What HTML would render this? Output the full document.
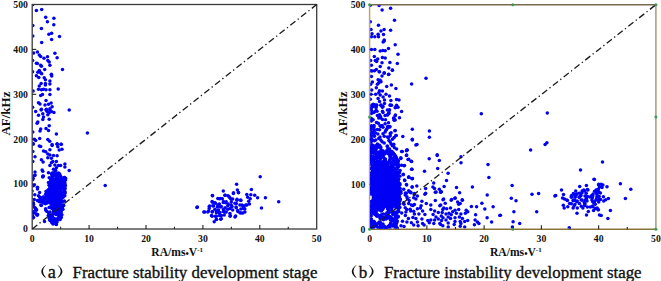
<!DOCTYPE html>
<html><head><meta charset="utf-8"><style>
html,body{margin:0;padding:0;background:#fff;width:661px;height:281px;overflow:hidden}
svg{display:block}
.tl{font-family:"Liberation Serif",serif;font-weight:bold;font-size:9.7px;fill:#111}
.at{font-family:"Liberation Serif",serif;font-weight:bold;font-size:11.2px;fill:#111}
.cap{font-family:"Liberation Serif",serif;font-size:16.8px;fill:#111;stroke:#111;stroke-width:0.35px}
</style></head><body>
<svg width="661" height="281" viewBox="0 0 661 281">
<defs><clipPath id="cl"><rect x="32.800000000000004" y="5.1" width="283.3" height="223.3"/><rect x="370.20000000000005" y="5.3" width="285.09999999999997" height="223.3"/></clipPath></defs>
<rect x="32.2" y="4.5" width="284.5" height="224.5" fill="none" stroke="#3a3a3a" stroke-width="1.3"/>
<line x1="60.65" y1="229.0" x2="60.65" y2="226.8" stroke="#222" stroke-width="1.1"/>
<line x1="89.10" y1="229.0" x2="89.10" y2="225.0" stroke="#222" stroke-width="1.1"/>
<line x1="117.55" y1="229.0" x2="117.55" y2="226.8" stroke="#222" stroke-width="1.1"/>
<line x1="146.00" y1="229.0" x2="146.00" y2="225.0" stroke="#222" stroke-width="1.1"/>
<line x1="174.45" y1="229.0" x2="174.45" y2="226.8" stroke="#222" stroke-width="1.1"/>
<line x1="202.90" y1="229.0" x2="202.90" y2="225.0" stroke="#222" stroke-width="1.1"/>
<line x1="231.35" y1="229.0" x2="231.35" y2="226.8" stroke="#222" stroke-width="1.1"/>
<line x1="259.80" y1="229.0" x2="259.80" y2="225.0" stroke="#222" stroke-width="1.1"/>
<line x1="288.25" y1="229.0" x2="288.25" y2="226.8" stroke="#222" stroke-width="1.1"/>
<line x1="32.2" y1="184.10" x2="36.2" y2="184.10" stroke="#222" stroke-width="1.1"/>
<line x1="32.2" y1="139.20" x2="36.2" y2="139.20" stroke="#222" stroke-width="1.1"/>
<line x1="32.2" y1="94.30" x2="36.2" y2="94.30" stroke="#222" stroke-width="1.1"/>
<line x1="32.2" y1="49.40" x2="36.2" y2="49.40" stroke="#222" stroke-width="1.1"/>
<text x="32.20" y="242.2" class="tl" text-anchor="middle">0</text>
<text x="89.10" y="242.2" class="tl" text-anchor="middle">10</text>
<text x="146.00" y="242.2" class="tl" text-anchor="middle">20</text>
<text x="202.90" y="242.2" class="tl" text-anchor="middle">30</text>
<text x="259.80" y="242.2" class="tl" text-anchor="middle">40</text>
<text x="316.70" y="242.2" class="tl" text-anchor="middle">50</text>
<text x="27.900000000000002" y="232.30" class="tl" text-anchor="end">0</text>
<text x="27.900000000000002" y="187.40" class="tl" text-anchor="end">100</text>
<text x="27.900000000000002" y="142.50" class="tl" text-anchor="end">200</text>
<text x="27.900000000000002" y="97.60" class="tl" text-anchor="end">300</text>
<text x="27.900000000000002" y="52.70" class="tl" text-anchor="end">400</text>
<text x="27.900000000000002" y="7.80" class="tl" text-anchor="end">500</text>
<path d="M655.9 4.7V229.2" fill="none" stroke="#a89a78" stroke-width="1.5"/>
<path d="M369.6 4.7H655.9" fill="none" stroke="#7a6a4c" stroke-width="1.4"/>
<path d="M369.6 229.2H655.9" fill="none" stroke="#8a7438" stroke-width="1.4"/>
<path d="M369.6 4.7V229.2" fill="none" stroke="#c4a664" stroke-width="1.5"/>
<line x1="398.23" y1="229.2" x2="398.23" y2="227.0" stroke="#222" stroke-width="1.1"/>
<line x1="426.86" y1="229.2" x2="426.86" y2="225.2" stroke="#222" stroke-width="1.1"/>
<line x1="455.49" y1="229.2" x2="455.49" y2="227.0" stroke="#222" stroke-width="1.1"/>
<line x1="484.12" y1="229.2" x2="484.12" y2="225.2" stroke="#222" stroke-width="1.1"/>
<line x1="512.75" y1="229.2" x2="512.75" y2="227.0" stroke="#222" stroke-width="1.1"/>
<line x1="541.38" y1="229.2" x2="541.38" y2="225.2" stroke="#222" stroke-width="1.1"/>
<line x1="570.01" y1="229.2" x2="570.01" y2="227.0" stroke="#222" stroke-width="1.1"/>
<line x1="598.64" y1="229.2" x2="598.64" y2="225.2" stroke="#222" stroke-width="1.1"/>
<line x1="627.27" y1="229.2" x2="627.27" y2="227.0" stroke="#222" stroke-width="1.1"/>
<line x1="369.6" y1="184.30" x2="373.6" y2="184.30" stroke="#222" stroke-width="1.1"/>
<line x1="369.6" y1="139.40" x2="373.6" y2="139.40" stroke="#222" stroke-width="1.1"/>
<line x1="369.6" y1="94.50" x2="373.6" y2="94.50" stroke="#222" stroke-width="1.1"/>
<line x1="369.6" y1="49.60" x2="373.6" y2="49.60" stroke="#222" stroke-width="1.1"/>
<text x="369.60" y="242.39999999999998" class="tl" text-anchor="middle">0</text>
<text x="426.86" y="242.39999999999998" class="tl" text-anchor="middle">10</text>
<text x="484.12" y="242.39999999999998" class="tl" text-anchor="middle">20</text>
<text x="541.38" y="242.39999999999998" class="tl" text-anchor="middle">30</text>
<text x="598.64" y="242.39999999999998" class="tl" text-anchor="middle">40</text>
<text x="655.90" y="242.39999999999998" class="tl" text-anchor="middle">50</text>
<text x="365.3" y="232.50" class="tl" text-anchor="end">0</text>
<text x="365.3" y="187.60" class="tl" text-anchor="end">100</text>
<text x="365.3" y="142.70" class="tl" text-anchor="end">200</text>
<text x="365.3" y="97.80" class="tl" text-anchor="end">300</text>
<text x="365.3" y="52.90" class="tl" text-anchor="end">400</text>
<text x="365.3" y="8.00" class="tl" text-anchor="end">500</text>
<g clip-path="url(#cl)">
<path d="M52,178 L62,178 L63,195 L62,208 L58,215 L53,214 L50,205 L50,190Z" fill="#0000f5"/>
<path d="M371,168 L380,167 L387,170 L393,170 L398,175 L400.5,185 L400.5,200 L399,207 L385,208 L372,209Z" fill="#0000f5"/>
<g fill="#0000f5"><circle cx="32.6" cy="4.6" r="1.75"/><circle cx="36.4" cy="10.4" r="1.75"/><circle cx="41.7" cy="9.5" r="1.75"/><circle cx="45.7" cy="17.2" r="1.75"/><circle cx="53.9" cy="18.2" r="1.75"/><circle cx="47.4" cy="21.7" r="1.75"/><circle cx="53.8" cy="24.8" r="1.75"/><circle cx="32.8" cy="25.6" r="1.75"/><circle cx="41.4" cy="28.6" r="1.75"/><circle cx="48.9" cy="34.2" r="1.75"/><circle cx="51.6" cy="33.3" r="1.75"/><circle cx="59.5" cy="36.6" r="1.75"/><circle cx="32.8" cy="36.0" r="1.75"/><circle cx="51.6" cy="39.5" r="1.75"/><circle cx="41.7" cy="42.4" r="1.75"/><circle cx="33.6" cy="53.1" r="1.75"/><circle cx="37.4" cy="52.1" r="1.75"/><circle cx="54.9" cy="53.2" r="1.75"/><circle cx="39.3" cy="54.9" r="1.75"/><circle cx="40.7" cy="56.4" r="1.75"/><circle cx="44.0" cy="58.2" r="1.75"/><circle cx="47.5" cy="56.7" r="1.75"/><circle cx="57.1" cy="57.8" r="1.75"/><circle cx="32.6" cy="60.6" r="1.75"/><circle cx="47.8" cy="60.6" r="1.75"/><circle cx="49.2" cy="62.1" r="1.75"/><circle cx="36.4" cy="63.2" r="1.75"/><circle cx="37.4" cy="63.5" r="1.75"/><circle cx="40.7" cy="65.2" r="1.75"/><circle cx="41.4" cy="66.3" r="1.75"/><circle cx="49.9" cy="65.3" r="1.75"/><circle cx="44.7" cy="69.5" r="1.75"/><circle cx="62.5" cy="69.5" r="1.75"/><circle cx="37.8" cy="72.3" r="1.75"/><circle cx="39.3" cy="70.6" r="1.75"/><circle cx="40.7" cy="72.7" r="1.75"/><circle cx="41.7" cy="73.7" r="1.75"/><circle cx="51.4" cy="74.2" r="1.75"/><circle cx="32.6" cy="71.8" r="1.75"/><circle cx="36.4" cy="75.7" r="1.75"/><circle cx="38.8" cy="77.4" r="1.75"/><circle cx="51.4" cy="75.0" r="1.75"/><circle cx="51.7" cy="76.0" r="1.75"/><circle cx="44.2" cy="77.8" r="1.75"/><circle cx="45.4" cy="79.7" r="1.75"/><circle cx="49.9" cy="81.1" r="1.75"/><circle cx="41.1" cy="83.5" r="1.75"/><circle cx="45.4" cy="83.5" r="1.75"/><circle cx="49.9" cy="84.0" r="1.75"/><circle cx="45.4" cy="85.0" r="1.75"/><circle cx="39.3" cy="86.0" r="1.75"/><circle cx="38.5" cy="89.2" r="1.75"/><circle cx="41.4" cy="89.7" r="1.75"/><circle cx="43.5" cy="89.2" r="1.75"/><circle cx="46.0" cy="89.7" r="1.75"/><circle cx="49.9" cy="89.7" r="1.75"/><circle cx="58.2" cy="88.9" r="1.75"/><circle cx="33.1" cy="91.1" r="1.75"/><circle cx="40.7" cy="95.6" r="1.75"/><circle cx="42.5" cy="94.5" r="1.75"/><circle cx="49.9" cy="94.5" r="1.75"/><circle cx="46.0" cy="100.6" r="1.75"/><circle cx="38.5" cy="102.8" r="1.75"/><circle cx="40.0" cy="103.9" r="1.75"/><circle cx="45.0" cy="104.9" r="1.75"/><circle cx="48.5" cy="104.2" r="1.75"/><circle cx="51.1" cy="103.0" r="1.75"/><circle cx="52.1" cy="106.8" r="1.75"/><circle cx="32.6" cy="107.3" r="1.75"/><circle cx="41.4" cy="109.2" r="1.75"/><circle cx="46.4" cy="109.2" r="1.75"/><circle cx="49.9" cy="108.7" r="1.75"/><circle cx="69.2" cy="109.9" r="1.75"/><circle cx="35.7" cy="111.4" r="1.75"/><circle cx="41.1" cy="110.0" r="1.75"/><circle cx="46.0" cy="110.0" r="1.75"/><circle cx="47.1" cy="111.4" r="1.75"/><circle cx="49.9" cy="110.0" r="1.75"/><circle cx="51.4" cy="111.4" r="1.75"/><circle cx="53.9" cy="112.4" r="1.75"/><circle cx="38.5" cy="115.3" r="1.75"/><circle cx="42.8" cy="113.8" r="1.75"/><circle cx="47.8" cy="114.7" r="1.75"/><circle cx="49.2" cy="112.8" r="1.75"/><circle cx="43.5" cy="117.1" r="1.75"/><circle cx="42.8" cy="119.5" r="1.75"/><circle cx="49.2" cy="119.2" r="1.75"/><circle cx="37.8" cy="122.1" r="1.75"/><circle cx="37.1" cy="123.2" r="1.75"/><circle cx="49.2" cy="125.7" r="1.75"/><circle cx="40.7" cy="128.9" r="1.75"/><circle cx="40.0" cy="130.9" r="1.75"/><circle cx="46.0" cy="128.5" r="1.75"/><circle cx="48.5" cy="130.6" r="1.75"/><circle cx="32.8" cy="132.1" r="1.75"/><circle cx="56.4" cy="133.9" r="1.75"/><circle cx="34.3" cy="139.2" r="1.75"/><circle cx="35.7" cy="140.6" r="1.75"/><circle cx="39.7" cy="138.5" r="1.75"/><circle cx="47.8" cy="139.5" r="1.75"/><circle cx="49.7" cy="141.3" r="1.75"/><circle cx="33.1" cy="143.5" r="1.75"/><circle cx="52.1" cy="144.6" r="1.75"/><circle cx="57.1" cy="143.7" r="1.75"/><circle cx="61.3" cy="144.2" r="1.75"/><circle cx="87.4" cy="133.1" r="1.75"/><circle cx="105.2" cy="185.4" r="1.75"/><circle cx="33.1" cy="144.3" r="1.75"/><circle cx="39.3" cy="146.0" r="1.75"/><circle cx="40.7" cy="146.4" r="1.75"/><circle cx="52.1" cy="145.4" r="1.75"/><circle cx="57.1" cy="144.3" r="1.75"/><circle cx="61.0" cy="144.3" r="1.75"/><circle cx="57.8" cy="146.8" r="1.75"/><circle cx="32.8" cy="151.4" r="1.75"/><circle cx="43.5" cy="151.1" r="1.75"/><circle cx="45.7" cy="151.7" r="1.75"/><circle cx="49.9" cy="149.7" r="1.75"/><circle cx="59.2" cy="150.0" r="1.75"/><circle cx="62.0" cy="149.3" r="1.75"/><circle cx="47.8" cy="154.0" r="1.75"/><circle cx="49.9" cy="155.0" r="1.75"/><circle cx="53.5" cy="155.4" r="1.75"/><circle cx="57.1" cy="155.7" r="1.75"/><circle cx="35.0" cy="156.8" r="1.75"/><circle cx="47.8" cy="157.8" r="1.75"/><circle cx="51.4" cy="158.2" r="1.75"/><circle cx="41.4" cy="159.7" r="1.75"/><circle cx="43.1" cy="162.1" r="1.75"/><circle cx="52.8" cy="161.4" r="1.75"/><circle cx="51.4" cy="162.8" r="1.75"/><circle cx="56.4" cy="161.4" r="1.75"/><circle cx="32.8" cy="161.4" r="1.75"/><circle cx="54.9" cy="164.9" r="1.75"/><circle cx="49.9" cy="165.6" r="1.75"/><circle cx="58.5" cy="165.4" r="1.75"/><circle cx="60.6" cy="165.6" r="1.75"/><circle cx="64.9" cy="163.9" r="1.75"/><circle cx="64.9" cy="167.1" r="1.75"/><circle cx="56.4" cy="167.8" r="1.75"/><circle cx="53.5" cy="169.2" r="1.75"/><circle cx="55.6" cy="170.2" r="1.75"/><circle cx="69.2" cy="170.6" r="1.75"/><circle cx="42.1" cy="169.9" r="1.75"/><circle cx="42.8" cy="171.3" r="1.75"/><circle cx="35.0" cy="172.0" r="1.75"/><circle cx="35.0" cy="174.9" r="1.75"/><circle cx="48.5" cy="172.8" r="1.75"/><circle cx="42.8" cy="176.3" r="1.75"/><circle cx="52.1" cy="174.2" r="1.75"/><circle cx="54.2" cy="174.2" r="1.75"/><circle cx="56.4" cy="174.9" r="1.75"/><circle cx="58.5" cy="175.6" r="1.75"/><circle cx="60.6" cy="176.3" r="1.75"/><circle cx="52.8" cy="177.0" r="1.75"/><circle cx="49.2" cy="177.7" r="1.75"/><circle cx="62.8" cy="178.2" r="1.75"/><circle cx="33.1" cy="178.2" r="1.75"/><circle cx="57.8" cy="178.5" r="1.75"/><circle cx="32.1" cy="176.0" r="1.75"/><circle cx="34.8" cy="175.5" r="1.75"/><circle cx="32.7" cy="179.8" r="1.75"/><circle cx="34.3" cy="185.1" r="1.75"/><circle cx="33.2" cy="185.7" r="1.75"/><circle cx="37.5" cy="187.3" r="1.75"/><circle cx="37.5" cy="188.9" r="1.75"/><circle cx="32.1" cy="191.0" r="1.75"/><circle cx="39.6" cy="192.6" r="1.75"/><circle cx="46.0" cy="191.5" r="1.75"/><circle cx="34.8" cy="194.7" r="1.75"/><circle cx="38.5" cy="195.8" r="1.75"/><circle cx="39.6" cy="196.9" r="1.75"/><circle cx="40.7" cy="199.0" r="1.75"/><circle cx="43.9" cy="197.9" r="1.75"/><circle cx="34.3" cy="199.5" r="1.75"/><circle cx="37.5" cy="200.6" r="1.75"/><circle cx="33.2" cy="202.7" r="1.75"/><circle cx="41.7" cy="201.7" r="1.75"/><circle cx="43.3" cy="176.0" r="1.75"/><circle cx="42.8" cy="177.1" r="1.75"/><circle cx="44.5" cy="221.6" r="1.75"/><circle cx="236.6" cy="184.2" r="1.75"/><circle cx="223.3" cy="191.0" r="1.75"/><circle cx="237.4" cy="190.0" r="1.75"/><circle cx="238.5" cy="192.4" r="1.75"/><circle cx="233.4" cy="193.4" r="1.75"/><circle cx="225.2" cy="195.3" r="1.75"/><circle cx="229.1" cy="196.7" r="1.75"/><circle cx="246.8" cy="194.4" r="1.75"/><circle cx="212.5" cy="195.7" r="1.75"/><circle cx="219.4" cy="198.7" r="1.75"/><circle cx="222.3" cy="198.7" r="1.75"/><circle cx="231.1" cy="199.2" r="1.75"/><circle cx="237.0" cy="200.2" r="1.75"/><circle cx="240.9" cy="200.6" r="1.75"/><circle cx="247.7" cy="197.3" r="1.75"/><circle cx="248.7" cy="201.2" r="1.75"/><circle cx="212.5" cy="202.2" r="1.75"/><circle cx="215.4" cy="203.2" r="1.75"/><circle cx="219.4" cy="204.1" r="1.75"/><circle cx="223.3" cy="202.6" r="1.75"/><circle cx="226.2" cy="201.8" r="1.75"/><circle cx="228.2" cy="204.1" r="1.75"/><circle cx="231.1" cy="205.1" r="1.75"/><circle cx="235.0" cy="203.2" r="1.75"/><circle cx="239.9" cy="205.1" r="1.75"/><circle cx="243.8" cy="206.1" r="1.75"/><circle cx="246.8" cy="205.1" r="1.75"/><circle cx="197.4" cy="207.1" r="1.75"/><circle cx="209.6" cy="206.1" r="1.75"/><circle cx="213.5" cy="206.1" r="1.75"/><circle cx="217.4" cy="207.1" r="1.75"/><circle cx="221.3" cy="206.5" r="1.75"/><circle cx="225.2" cy="207.7" r="1.75"/><circle cx="230.1" cy="208.4" r="1.75"/><circle cx="236.0" cy="207.1" r="1.75"/><circle cx="240.9" cy="209.0" r="1.75"/><circle cx="244.8" cy="209.0" r="1.75"/><circle cx="204.7" cy="212.0" r="1.75"/><circle cx="208.6" cy="211.0" r="1.75"/><circle cx="212.5" cy="211.6" r="1.75"/><circle cx="216.4" cy="211.0" r="1.75"/><circle cx="219.4" cy="212.4" r="1.75"/><circle cx="223.3" cy="211.6" r="1.75"/><circle cx="226.2" cy="212.0" r="1.75"/><circle cx="237.9" cy="211.6" r="1.75"/><circle cx="242.8" cy="212.9" r="1.75"/><circle cx="211.5" cy="215.5" r="1.75"/><circle cx="215.4" cy="216.3" r="1.75"/><circle cx="219.4" cy="215.5" r="1.75"/><circle cx="230.1" cy="216.3" r="1.75"/><circle cx="235.0" cy="216.9" r="1.75"/><circle cx="221.3" cy="218.8" r="1.75"/><circle cx="216.4" cy="219.4" r="1.75"/><circle cx="260.2" cy="176.7" r="1.75"/><circle cx="251.4" cy="189.5" r="1.75"/><circle cx="250.8" cy="194.7" r="1.75"/><circle cx="254.7" cy="195.3" r="1.75"/><circle cx="257.6" cy="197.7" r="1.75"/><circle cx="265.4" cy="197.7" r="1.75"/><circle cx="250.2" cy="198.7" r="1.75"/><circle cx="278.7" cy="201.8" r="1.75"/><circle cx="249.4" cy="204.1" r="1.75"/><circle cx="242.9" cy="206.1" r="1.75"/><circle cx="245.9" cy="205.1" r="1.75"/><circle cx="243.9" cy="208.0" r="1.75"/><circle cx="261.5" cy="208.0" r="1.75"/><circle cx="244.9" cy="212.0" r="1.75"/><circle cx="241.0" cy="213.0" r="1.75"/><circle cx="233.5" cy="192.8" r="1.75"/><circle cx="238.4" cy="192.8" r="1.75"/><circle cx="212.4" cy="195.4" r="1.75"/><circle cx="224.9" cy="195.3" r="1.75"/><circle cx="228.0" cy="195.7" r="1.75"/><circle cx="217.8" cy="198.5" r="1.75"/><circle cx="220.4" cy="198.5" r="1.75"/><circle cx="229.9" cy="197.8" r="1.75"/><circle cx="232.7" cy="199.0" r="1.75"/><circle cx="237.0" cy="199.2" r="1.75"/><circle cx="240.6" cy="200.0" r="1.75"/><circle cx="212.1" cy="201.4" r="1.75"/><circle cx="214.9" cy="202.8" r="1.75"/><circle cx="223.5" cy="201.4" r="1.75"/><circle cx="225.6" cy="202.8" r="1.75"/><circle cx="231.3" cy="202.1" r="1.75"/><circle cx="236.3" cy="203.5" r="1.75"/><circle cx="242.0" cy="204.9" r="1.75"/><circle cx="196.9" cy="207.5" r="1.75"/><circle cx="209.2" cy="206.4" r="1.75"/><circle cx="212.8" cy="205.7" r="1.75"/><circle cx="217.8" cy="204.9" r="1.75"/><circle cx="220.6" cy="207.1" r="1.75"/><circle cx="227.8" cy="205.7" r="1.75"/><circle cx="232.0" cy="206.4" r="1.75"/><circle cx="236.3" cy="207.8" r="1.75"/><circle cx="209.2" cy="208.5" r="1.75"/><circle cx="214.9" cy="209.2" r="1.75"/><circle cx="218.5" cy="209.9" r="1.75"/><circle cx="223.5" cy="209.2" r="1.75"/><circle cx="227.8" cy="209.2" r="1.75"/><circle cx="232.7" cy="209.9" r="1.75"/><circle cx="237.7" cy="210.6" r="1.75"/><circle cx="243.4" cy="208.5" r="1.75"/><circle cx="203.8" cy="212.1" r="1.75"/><circle cx="207.8" cy="212.1" r="1.75"/><circle cx="212.1" cy="212.1" r="1.75"/><circle cx="216.4" cy="212.8" r="1.75"/><circle cx="219.9" cy="212.8" r="1.75"/><circle cx="224.9" cy="212.1" r="1.75"/><circle cx="229.9" cy="213.5" r="1.75"/><circle cx="239.9" cy="212.8" r="1.75"/><circle cx="212.1" cy="216.3" r="1.75"/><circle cx="216.4" cy="216.3" r="1.75"/><circle cx="221.4" cy="215.6" r="1.75"/><circle cx="224.2" cy="214.9" r="1.75"/><circle cx="230.3" cy="215.6" r="1.75"/><circle cx="235.6" cy="216.1" r="1.75"/><circle cx="216.4" cy="219.2" r="1.75"/><circle cx="220.6" cy="219.2" r="1.75"/><circle cx="214.2" cy="221.8" r="1.75"/><circle cx="56.4" cy="175.8" r="1.75"/><circle cx="53.2" cy="191.4" r="1.75"/><circle cx="40.1" cy="198.9" r="1.75"/><circle cx="50.2" cy="215.8" r="1.75"/><circle cx="55.8" cy="222.2" r="1.75"/><circle cx="54.4" cy="193.0" r="1.75"/><circle cx="62.1" cy="187.3" r="1.75"/><circle cx="43.5" cy="202.8" r="1.75"/><circle cx="56.1" cy="191.7" r="1.75"/><circle cx="53.6" cy="175.3" r="1.75"/><circle cx="57.2" cy="194.7" r="1.75"/><circle cx="47.1" cy="203.0" r="1.75"/><circle cx="51.0" cy="187.9" r="1.75"/><circle cx="60.3" cy="209.0" r="1.75"/><circle cx="45.2" cy="202.4" r="1.75"/><circle cx="52.9" cy="218.4" r="1.75"/><circle cx="58.6" cy="187.3" r="1.75"/><circle cx="65.5" cy="178.3" r="1.75"/><circle cx="50.0" cy="212.1" r="1.75"/><circle cx="42.7" cy="197.9" r="1.75"/><circle cx="59.5" cy="202.4" r="1.75"/><circle cx="62.6" cy="188.6" r="1.75"/><circle cx="57.6" cy="203.5" r="1.75"/><circle cx="54.4" cy="196.2" r="1.75"/><circle cx="51.5" cy="207.2" r="1.75"/><circle cx="56.3" cy="224.6" r="1.75"/><circle cx="61.1" cy="187.1" r="1.75"/><circle cx="49.1" cy="207.4" r="1.75"/><circle cx="49.3" cy="218.2" r="1.75"/><circle cx="53.6" cy="218.8" r="1.75"/><circle cx="61.0" cy="217.8" r="1.75"/><circle cx="46.2" cy="194.0" r="1.75"/><circle cx="64.8" cy="180.0" r="1.75"/><circle cx="44.9" cy="197.7" r="1.75"/><circle cx="54.7" cy="185.9" r="1.75"/><circle cx="48.7" cy="202.0" r="1.75"/><circle cx="52.7" cy="204.7" r="1.75"/><circle cx="57.1" cy="174.9" r="1.75"/><circle cx="49.3" cy="193.1" r="1.75"/><circle cx="41.3" cy="205.6" r="1.75"/><circle cx="55.4" cy="179.9" r="1.75"/><circle cx="51.3" cy="197.6" r="1.75"/><circle cx="61.3" cy="180.6" r="1.75"/><circle cx="53.0" cy="179.8" r="1.75"/><circle cx="53.4" cy="173.4" r="1.75"/><circle cx="53.0" cy="223.9" r="1.75"/><circle cx="62.2" cy="208.9" r="1.75"/><circle cx="53.1" cy="213.3" r="1.75"/><circle cx="61.9" cy="214.7" r="1.75"/><circle cx="61.0" cy="211.2" r="1.75"/><circle cx="44.7" cy="199.4" r="1.75"/><circle cx="45.6" cy="208.7" r="1.75"/><circle cx="64.8" cy="195.7" r="1.75"/><circle cx="64.8" cy="191.3" r="1.75"/><circle cx="55.7" cy="219.7" r="1.75"/><circle cx="61.6" cy="197.4" r="1.75"/><circle cx="56.5" cy="214.4" r="1.75"/><circle cx="59.1" cy="197.3" r="1.75"/><circle cx="65.2" cy="193.0" r="1.75"/><circle cx="58.4" cy="181.0" r="1.75"/><circle cx="48.1" cy="201.1" r="1.75"/><circle cx="53.0" cy="221.5" r="1.75"/><circle cx="50.4" cy="218.2" r="1.75"/><circle cx="61.2" cy="183.2" r="1.75"/><circle cx="45.1" cy="203.1" r="1.75"/><circle cx="45.6" cy="194.2" r="1.75"/><circle cx="48.2" cy="196.3" r="1.75"/><circle cx="54.5" cy="219.9" r="1.75"/><circle cx="50.1" cy="220.6" r="1.75"/><circle cx="52.3" cy="200.2" r="1.75"/><circle cx="52.9" cy="173.0" r="1.75"/><circle cx="50.6" cy="181.7" r="1.75"/><circle cx="43.2" cy="197.1" r="1.75"/><circle cx="58.4" cy="201.5" r="1.75"/><circle cx="47.5" cy="199.5" r="1.75"/><circle cx="53.8" cy="213.6" r="1.75"/><circle cx="41.4" cy="201.7" r="1.75"/><circle cx="59.7" cy="198.9" r="1.75"/><circle cx="53.9" cy="212.3" r="1.75"/><circle cx="63.6" cy="195.5" r="1.75"/><circle cx="55.3" cy="198.8" r="1.75"/><circle cx="52.6" cy="208.7" r="1.75"/><circle cx="50.9" cy="200.3" r="1.75"/><circle cx="51.6" cy="221.9" r="1.75"/><circle cx="57.7" cy="218.5" r="1.75"/><circle cx="64.4" cy="185.8" r="1.75"/><circle cx="53.9" cy="222.0" r="1.75"/><circle cx="61.6" cy="179.3" r="1.75"/><circle cx="60.1" cy="219.5" r="1.75"/><circle cx="56.7" cy="179.6" r="1.75"/><circle cx="49.5" cy="197.8" r="1.75"/><circle cx="52.7" cy="190.0" r="1.75"/><circle cx="58.4" cy="173.0" r="1.75"/><circle cx="53.7" cy="195.3" r="1.75"/><circle cx="55.7" cy="199.1" r="1.75"/><circle cx="50.1" cy="220.3" r="1.75"/><circle cx="61.0" cy="185.7" r="1.75"/><circle cx="54.2" cy="209.1" r="1.75"/><circle cx="57.4" cy="194.5" r="1.75"/><circle cx="55.9" cy="214.5" r="1.75"/><circle cx="51.0" cy="190.0" r="1.75"/><circle cx="53.7" cy="221.1" r="1.75"/><circle cx="53.0" cy="184.6" r="1.75"/><circle cx="59.4" cy="187.4" r="1.75"/><circle cx="52.3" cy="181.4" r="1.75"/><circle cx="58.7" cy="201.2" r="1.75"/><circle cx="43.7" cy="197.2" r="1.75"/><circle cx="64.2" cy="177.6" r="1.75"/><circle cx="61.0" cy="194.9" r="1.75"/><circle cx="52.1" cy="216.2" r="1.75"/><circle cx="49.3" cy="198.9" r="1.75"/><circle cx="57.9" cy="205.7" r="1.75"/><circle cx="49.6" cy="190.4" r="1.75"/><circle cx="62.4" cy="207.5" r="1.75"/><circle cx="46.6" cy="196.4" r="1.75"/><circle cx="47.0" cy="190.9" r="1.75"/><circle cx="51.6" cy="198.6" r="1.75"/><circle cx="44.0" cy="198.8" r="1.75"/><circle cx="54.6" cy="200.0" r="1.75"/><circle cx="59.1" cy="206.8" r="1.75"/><circle cx="58.2" cy="218.6" r="1.75"/><circle cx="49.2" cy="189.3" r="1.75"/><circle cx="65.6" cy="179.9" r="1.75"/><circle cx="58.4" cy="206.1" r="1.75"/><circle cx="63.0" cy="205.2" r="1.75"/><circle cx="58.7" cy="215.0" r="1.75"/><circle cx="42.3" cy="199.8" r="1.75"/><circle cx="52.4" cy="216.3" r="1.75"/><circle cx="60.6" cy="215.8" r="1.75"/><circle cx="54.6" cy="219.3" r="1.75"/><circle cx="57.3" cy="208.7" r="1.75"/><circle cx="53.9" cy="205.3" r="1.75"/><circle cx="55.7" cy="208.1" r="1.75"/><circle cx="60.4" cy="211.7" r="1.75"/><circle cx="52.3" cy="200.4" r="1.75"/><circle cx="56.6" cy="175.5" r="1.75"/><circle cx="58.8" cy="185.4" r="1.75"/><circle cx="58.6" cy="182.9" r="1.75"/><circle cx="52.1" cy="192.3" r="1.75"/><circle cx="51.7" cy="208.2" r="1.75"/><circle cx="59.6" cy="204.7" r="1.75"/><circle cx="56.2" cy="176.1" r="1.75"/><circle cx="58.9" cy="188.1" r="1.75"/><circle cx="54.1" cy="172.7" r="1.75"/><circle cx="57.0" cy="208.7" r="1.75"/><circle cx="57.1" cy="187.4" r="1.75"/><circle cx="52.7" cy="196.6" r="1.75"/><circle cx="51.3" cy="178.3" r="1.75"/><circle cx="63.1" cy="182.6" r="1.75"/><circle cx="50.9" cy="186.2" r="1.75"/><circle cx="44.3" cy="202.8" r="1.75"/><circle cx="42.4" cy="199.8" r="1.75"/><circle cx="64.7" cy="179.0" r="1.75"/><circle cx="61.1" cy="199.0" r="1.75"/><circle cx="62.9" cy="209.3" r="1.75"/><circle cx="51.9" cy="173.3" r="1.75"/><circle cx="50.9" cy="188.0" r="1.75"/><circle cx="61.6" cy="178.4" r="1.75"/><circle cx="63.3" cy="187.4" r="1.75"/><circle cx="48.7" cy="192.8" r="1.75"/><circle cx="48.4" cy="194.7" r="1.75"/><circle cx="52.6" cy="182.1" r="1.75"/><circle cx="55.8" cy="220.4" r="1.75"/><circle cx="64.4" cy="201.1" r="1.75"/><circle cx="58.3" cy="174.6" r="1.75"/><circle cx="58.6" cy="195.9" r="1.75"/><circle cx="59.2" cy="206.2" r="1.75"/><circle cx="64.0" cy="178.7" r="1.75"/><circle cx="51.5" cy="190.2" r="1.75"/><circle cx="46.7" cy="211.2" r="1.75"/><circle cx="65.3" cy="185.8" r="1.75"/><circle cx="56.5" cy="187.9" r="1.75"/><circle cx="53.8" cy="192.9" r="1.75"/><circle cx="52.2" cy="183.7" r="1.75"/><circle cx="50.9" cy="179.4" r="1.75"/><circle cx="54.2" cy="219.0" r="1.75"/><circle cx="59.1" cy="193.9" r="1.75"/><circle cx="49.9" cy="199.8" r="1.75"/><circle cx="48.9" cy="189.9" r="1.75"/><circle cx="65.1" cy="178.7" r="1.75"/><circle cx="52.3" cy="205.4" r="1.75"/><circle cx="62.2" cy="183.4" r="1.75"/><circle cx="49.5" cy="195.6" r="1.75"/><circle cx="63.1" cy="197.1" r="1.75"/><circle cx="61.2" cy="217.3" r="1.75"/><circle cx="65.2" cy="185.2" r="1.75"/><circle cx="52.9" cy="208.1" r="1.75"/><circle cx="56.3" cy="212.5" r="1.75"/><circle cx="51.1" cy="201.2" r="1.75"/><circle cx="56.3" cy="188.1" r="1.75"/><circle cx="56.0" cy="209.0" r="1.75"/><circle cx="52.9" cy="202.9" r="1.75"/><circle cx="49.2" cy="183.8" r="1.75"/><circle cx="55.0" cy="172.6" r="1.75"/><circle cx="46.8" cy="196.4" r="1.75"/><circle cx="62.8" cy="197.2" r="1.75"/><circle cx="52.2" cy="207.7" r="1.75"/><circle cx="50.1" cy="185.6" r="1.75"/><circle cx="56.9" cy="221.0" r="1.75"/><circle cx="47.8" cy="194.3" r="1.75"/><circle cx="57.3" cy="182.5" r="1.75"/><circle cx="60.4" cy="211.2" r="1.75"/><circle cx="52.4" cy="182.9" r="1.75"/><circle cx="65.2" cy="188.5" r="1.75"/><circle cx="61.1" cy="184.2" r="1.75"/><circle cx="52.1" cy="181.9" r="1.75"/><circle cx="56.8" cy="222.3" r="1.75"/><circle cx="64.1" cy="189.4" r="1.75"/><circle cx="59.0" cy="173.7" r="1.75"/><circle cx="56.8" cy="192.1" r="1.75"/><circle cx="48.8" cy="189.6" r="1.75"/><circle cx="64.8" cy="178.6" r="1.75"/><circle cx="65.0" cy="183.0" r="1.75"/><circle cx="48.3" cy="215.5" r="1.75"/><circle cx="61.1" cy="194.9" r="1.75"/><circle cx="49.8" cy="215.0" r="1.75"/><circle cx="59.6" cy="174.2" r="1.75"/><circle cx="63.8" cy="185.6" r="1.75"/><circle cx="59.1" cy="219.6" r="1.75"/><circle cx="45.7" cy="210.0" r="1.75"/><circle cx="63.7" cy="205.6" r="1.75"/><circle cx="44.9" cy="197.2" r="1.75"/><circle cx="49.1" cy="185.3" r="1.75"/><circle cx="50.3" cy="198.2" r="1.75"/><circle cx="64.0" cy="181.7" r="1.75"/><circle cx="60.6" cy="211.1" r="1.75"/><circle cx="61.1" cy="213.0" r="1.75"/><circle cx="55.2" cy="189.4" r="1.75"/><circle cx="47.3" cy="191.2" r="1.75"/><circle cx="60.0" cy="176.2" r="1.75"/><circle cx="39.4" cy="201.3" r="1.75"/><circle cx="41.2" cy="198.4" r="1.75"/><circle cx="58.0" cy="195.7" r="1.75"/><circle cx="55.6" cy="207.7" r="1.75"/><circle cx="59.1" cy="216.9" r="1.75"/><circle cx="56.8" cy="178.4" r="1.75"/><circle cx="61.6" cy="187.6" r="1.75"/><circle cx="54.1" cy="191.8" r="1.75"/><circle cx="58.8" cy="182.6" r="1.75"/><circle cx="54.4" cy="189.3" r="1.75"/><circle cx="52.5" cy="184.3" r="1.75"/><circle cx="60.7" cy="206.6" r="1.75"/><circle cx="51.6" cy="215.4" r="1.75"/><circle cx="64.1" cy="191.7" r="1.75"/><circle cx="62.3" cy="195.8" r="1.75"/><circle cx="64.5" cy="177.6" r="1.75"/><circle cx="54.9" cy="204.9" r="1.75"/><circle cx="45.5" cy="203.8" r="1.75"/><circle cx="56.4" cy="182.8" r="1.75"/><circle cx="57.2" cy="181.8" r="1.75"/><circle cx="60.4" cy="201.0" r="1.75"/><circle cx="49.4" cy="201.2" r="1.75"/><circle cx="56.1" cy="176.8" r="1.75"/><circle cx="49.8" cy="187.0" r="1.75"/><circle cx="47.1" cy="202.0" r="1.75"/><circle cx="48.3" cy="194.1" r="1.75"/><circle cx="48.5" cy="182.5" r="1.75"/><circle cx="58.5" cy="182.8" r="1.75"/><circle cx="50.2" cy="215.5" r="1.75"/><circle cx="49.7" cy="218.8" r="1.75"/><circle cx="51.2" cy="180.6" r="1.75"/><circle cx="38.9" cy="201.2" r="1.75"/><circle cx="56.1" cy="220.2" r="1.75"/><circle cx="40.9" cy="205.0" r="1.75"/><circle cx="48.7" cy="198.7" r="1.75"/><circle cx="52.8" cy="221.1" r="1.75"/><circle cx="41.5" cy="198.0" r="1.75"/><circle cx="51.8" cy="174.8" r="1.75"/><circle cx="64.0" cy="192.6" r="1.75"/><circle cx="63.4" cy="204.9" r="1.75"/><circle cx="61.2" cy="180.5" r="1.75"/><circle cx="60.1" cy="183.8" r="1.75"/><circle cx="49.6" cy="216.9" r="1.75"/><circle cx="61.3" cy="181.7" r="1.75"/><circle cx="52.7" cy="192.3" r="1.75"/><circle cx="58.4" cy="219.6" r="1.75"/><circle cx="39.6" cy="201.8" r="1.75"/><circle cx="59.3" cy="174.0" r="1.75"/><circle cx="61.6" cy="178.2" r="1.75"/><circle cx="55.0" cy="201.2" r="1.75"/><circle cx="55.7" cy="188.2" r="1.75"/><circle cx="50.1" cy="202.9" r="1.75"/><circle cx="50.2" cy="206.9" r="1.75"/><circle cx="50.8" cy="195.2" r="1.75"/><circle cx="52.0" cy="184.5" r="1.75"/><circle cx="59.5" cy="213.3" r="1.75"/><circle cx="51.1" cy="181.5" r="1.75"/><circle cx="51.5" cy="177.7" r="1.75"/><circle cx="52.5" cy="174.2" r="1.75"/><circle cx="56.0" cy="176.4" r="1.75"/><circle cx="58.7" cy="213.2" r="1.75"/><circle cx="52.6" cy="174.9" r="1.75"/><circle cx="52.4" cy="192.0" r="1.75"/><circle cx="64.6" cy="179.2" r="1.75"/><circle cx="58.6" cy="215.2" r="1.75"/><circle cx="52.0" cy="222.7" r="1.75"/><circle cx="63.7" cy="180.8" r="1.75"/><circle cx="59.3" cy="180.4" r="1.75"/><circle cx="63.2" cy="186.6" r="1.75"/><circle cx="60.9" cy="179.6" r="1.75"/><circle cx="52.3" cy="220.8" r="1.75"/><circle cx="52.4" cy="188.9" r="1.75"/><circle cx="57.2" cy="219.5" r="1.75"/><circle cx="41.7" cy="200.1" r="1.75"/><circle cx="56.0" cy="191.1" r="1.75"/><circle cx="62.5" cy="201.4" r="1.75"/><circle cx="54.5" cy="218.8" r="1.75"/><circle cx="55.8" cy="192.9" r="1.75"/><circle cx="60.4" cy="186.0" r="1.75"/><circle cx="48.4" cy="212.5" r="1.75"/><circle cx="50.7" cy="181.4" r="1.75"/><circle cx="58.9" cy="174.6" r="1.75"/><circle cx="61.0" cy="185.4" r="1.75"/><circle cx="56.1" cy="224.2" r="1.75"/><circle cx="54.6" cy="207.2" r="1.75"/><circle cx="55.4" cy="194.9" r="1.75"/><circle cx="52.6" cy="219.5" r="1.75"/><circle cx="56.5" cy="173.2" r="1.75"/><circle cx="44.7" cy="202.9" r="1.75"/><circle cx="54.7" cy="182.8" r="1.75"/><circle cx="35.7" cy="210.1" r="1.75"/><circle cx="32.8" cy="217.9" r="1.75"/><circle cx="33.5" cy="204.5" r="1.75"/><circle cx="32.6" cy="212.8" r="1.75"/><circle cx="37.2" cy="215.3" r="1.75"/><circle cx="32.1" cy="213.0" r="1.75"/><circle cx="35.4" cy="208.0" r="1.75"/><circle cx="35.9" cy="209.5" r="1.75"/><circle cx="37.6" cy="214.5" r="1.75"/><circle cx="33.5" cy="217.4" r="1.75"/><circle cx="32.3" cy="211.0" r="1.75"/><circle cx="32.4" cy="215.2" r="1.75"/><circle cx="32.1" cy="211.4" r="1.75"/><circle cx="33.2" cy="212.3" r="1.75"/><circle cx="35.0" cy="212.9" r="1.75"/><circle cx="33.9" cy="207.1" r="1.75"/><circle cx="32.3" cy="217.1" r="1.75"/><circle cx="36.7" cy="214.2" r="1.75"/><circle cx="32.0" cy="216.4" r="1.75"/><circle cx="36.5" cy="209.9" r="1.75"/><circle cx="36.5" cy="209.7" r="1.75"/><circle cx="33.4" cy="203.8" r="1.75"/><circle cx="370.3" cy="5.2" r="1.75"/><circle cx="379.1" cy="5.5" r="1.75"/><circle cx="382.1" cy="10.0" r="1.75"/><circle cx="390.6" cy="8.3" r="1.75"/><circle cx="394.5" cy="20.2" r="1.75"/><circle cx="370.3" cy="21.8" r="1.75"/><circle cx="378.5" cy="25.2" r="1.75"/><circle cx="371.0" cy="29.6" r="1.75"/><circle cx="381.0" cy="31.1" r="1.75"/><circle cx="384.1" cy="29.6" r="1.75"/><circle cx="390.6" cy="30.3" r="1.75"/><circle cx="372.0" cy="33.8" r="1.75"/><circle cx="378.1" cy="34.2" r="1.75"/><circle cx="383.5" cy="34.5" r="1.75"/><circle cx="371.4" cy="36.8" r="1.75"/><circle cx="374.8" cy="36.8" r="1.75"/><circle cx="378.5" cy="36.8" r="1.75"/><circle cx="384.2" cy="39.9" r="1.75"/><circle cx="383.1" cy="42.1" r="1.75"/><circle cx="384.2" cy="41.0" r="1.75"/><circle cx="395.2" cy="44.7" r="1.75"/><circle cx="374.8" cy="49.5" r="1.75"/><circle cx="371.4" cy="49.5" r="1.75"/><circle cx="380.2" cy="51.0" r="1.75"/><circle cx="382.8" cy="50.4" r="1.75"/><circle cx="385.2" cy="50.7" r="1.75"/><circle cx="388.5" cy="48.5" r="1.75"/><circle cx="398.0" cy="54.2" r="1.75"/><circle cx="374.3" cy="56.4" r="1.75"/><circle cx="382.4" cy="57.5" r="1.75"/><circle cx="385.2" cy="58.1" r="1.75"/><circle cx="370.6" cy="60.6" r="1.75"/><circle cx="375.3" cy="60.6" r="1.75"/><circle cx="377.7" cy="58.9" r="1.75"/><circle cx="376.7" cy="61.4" r="1.75"/><circle cx="382.0" cy="62.8" r="1.75"/><circle cx="389.9" cy="62.4" r="1.75"/><circle cx="397.3" cy="63.5" r="1.75"/><circle cx="371.4" cy="65.2" r="1.75"/><circle cx="380.2" cy="66.6" r="1.75"/><circle cx="388.8" cy="68.0" r="1.75"/><circle cx="392.4" cy="69.9" r="1.75"/><circle cx="372.0" cy="70.9" r="1.75"/><circle cx="376.3" cy="69.5" r="1.75"/><circle cx="379.1" cy="71.8" r="1.75"/><circle cx="384.2" cy="73.2" r="1.75"/><circle cx="388.8" cy="74.2" r="1.75"/><circle cx="371.0" cy="70.7" r="1.75"/><circle cx="374.5" cy="70.7" r="1.75"/><circle cx="379.5" cy="71.7" r="1.75"/><circle cx="384.2" cy="72.8" r="1.75"/><circle cx="388.5" cy="74.6" r="1.75"/><circle cx="392.4" cy="70.3" r="1.75"/><circle cx="371.4" cy="76.4" r="1.75"/><circle cx="382.0" cy="76.0" r="1.75"/><circle cx="378.1" cy="79.7" r="1.75"/><circle cx="380.2" cy="80.3" r="1.75"/><circle cx="372.4" cy="82.1" r="1.75"/><circle cx="378.8" cy="82.8" r="1.75"/><circle cx="381.0" cy="81.7" r="1.75"/><circle cx="377.4" cy="84.2" r="1.75"/><circle cx="370.6" cy="84.2" r="1.75"/><circle cx="411.6" cy="84.0" r="1.75"/><circle cx="391.4" cy="85.0" r="1.75"/><circle cx="386.7" cy="86.4" r="1.75"/><circle cx="376.3" cy="87.8" r="1.75"/><circle cx="395.9" cy="88.5" r="1.75"/><circle cx="371.7" cy="90.0" r="1.75"/><circle cx="379.5" cy="90.7" r="1.75"/><circle cx="382.4" cy="91.1" r="1.75"/><circle cx="378.8" cy="92.8" r="1.75"/><circle cx="375.7" cy="94.2" r="1.75"/><circle cx="380.2" cy="94.9" r="1.75"/><circle cx="386.0" cy="94.2" r="1.75"/><circle cx="389.5" cy="95.9" r="1.75"/><circle cx="371.0" cy="94.2" r="1.75"/><circle cx="383.1" cy="97.1" r="1.75"/><circle cx="378.1" cy="98.5" r="1.75"/><circle cx="370.3" cy="99.2" r="1.75"/><circle cx="384.5" cy="99.9" r="1.75"/><circle cx="390.9" cy="100.6" r="1.75"/><circle cx="396.6" cy="99.6" r="1.75"/><circle cx="399.0" cy="99.9" r="1.75"/><circle cx="379.5" cy="101.6" r="1.75"/><circle cx="373.1" cy="104.2" r="1.75"/><circle cx="374.8" cy="104.9" r="1.75"/><circle cx="376.7" cy="104.9" r="1.75"/><circle cx="381.0" cy="104.9" r="1.75"/><circle cx="384.5" cy="103.5" r="1.75"/><circle cx="390.2" cy="104.9" r="1.75"/><circle cx="396.6" cy="105.3" r="1.75"/><circle cx="371.7" cy="107.3" r="1.75"/><circle cx="376.0" cy="107.7" r="1.75"/><circle cx="382.4" cy="107.3" r="1.75"/><circle cx="395.2" cy="107.7" r="1.75"/><circle cx="398.0" cy="107.3" r="1.75"/><circle cx="387.4" cy="109.9" r="1.75"/><circle cx="426.0" cy="78.3" r="1.75"/><circle cx="371.8" cy="105.3" r="1.75"/><circle cx="374.4" cy="104.9" r="1.75"/><circle cx="376.5" cy="105.3" r="1.75"/><circle cx="376.1" cy="106.6" r="1.75"/><circle cx="373.1" cy="106.6" r="1.75"/><circle cx="380.8" cy="105.3" r="1.75"/><circle cx="383.0" cy="106.6" r="1.75"/><circle cx="390.2" cy="105.3" r="1.75"/><circle cx="391.5" cy="105.3" r="1.75"/><circle cx="396.2" cy="107.0" r="1.75"/><circle cx="371.0" cy="108.7" r="1.75"/><circle cx="371.4" cy="110.4" r="1.75"/><circle cx="376.1" cy="110.4" r="1.75"/><circle cx="374.8" cy="111.7" r="1.75"/><circle cx="377.0" cy="111.3" r="1.75"/><circle cx="382.5" cy="111.3" r="1.75"/><circle cx="389.4" cy="110.0" r="1.75"/><circle cx="371.4" cy="113.4" r="1.75"/><circle cx="373.6" cy="112.5" r="1.75"/><circle cx="383.0" cy="112.5" r="1.75"/><circle cx="377.4" cy="115.5" r="1.75"/><circle cx="379.5" cy="114.7" r="1.75"/><circle cx="380.4" cy="116.4" r="1.75"/><circle cx="385.1" cy="115.5" r="1.75"/><circle cx="387.7" cy="114.7" r="1.75"/><circle cx="388.9" cy="113.4" r="1.75"/><circle cx="395.4" cy="115.1" r="1.75"/><circle cx="393.6" cy="118.1" r="1.75"/><circle cx="394.1" cy="120.2" r="1.75"/><circle cx="371.4" cy="118.5" r="1.75"/><circle cx="373.1" cy="119.8" r="1.75"/><circle cx="378.7" cy="118.1" r="1.75"/><circle cx="380.8" cy="118.1" r="1.75"/><circle cx="382.5" cy="119.4" r="1.75"/><circle cx="385.5" cy="119.8" r="1.75"/><circle cx="371.4" cy="121.1" r="1.75"/><circle cx="376.5" cy="122.4" r="1.75"/><circle cx="378.3" cy="123.2" r="1.75"/><circle cx="385.1" cy="123.7" r="1.75"/><circle cx="388.5" cy="122.8" r="1.75"/><circle cx="371.4" cy="125.8" r="1.75"/><circle cx="374.0" cy="125.4" r="1.75"/><circle cx="380.0" cy="125.8" r="1.75"/><circle cx="382.1" cy="125.4" r="1.75"/><circle cx="387.7" cy="126.6" r="1.75"/><circle cx="389.8" cy="126.6" r="1.75"/><circle cx="401.6" cy="111.4" r="1.75"/><circle cx="399.5" cy="117.8" r="1.75"/><circle cx="395.2" cy="115.7" r="1.75"/><circle cx="393.8" cy="118.5" r="1.75"/><circle cx="395.2" cy="120.0" r="1.75"/><circle cx="412.3" cy="129.2" r="1.75"/><circle cx="395.2" cy="130.6" r="1.75"/><circle cx="402.8" cy="136.6" r="1.75"/><circle cx="395.9" cy="135.6" r="1.75"/><circle cx="412.3" cy="139.2" r="1.75"/><circle cx="392.4" cy="139.2" r="1.75"/><circle cx="388.8" cy="112.8" r="1.75"/><circle cx="387.4" cy="115.0" r="1.75"/><circle cx="389.5" cy="110.0" r="1.75"/><circle cx="395.9" cy="107.1" r="1.75"/><circle cx="388.8" cy="127.1" r="1.75"/><circle cx="390.2" cy="133.5" r="1.75"/><circle cx="387.4" cy="137.0" r="1.75"/><circle cx="390.2" cy="142.0" r="1.75"/><circle cx="393.8" cy="144.2" r="1.75"/><circle cx="371.4" cy="126.9" r="1.75"/><circle cx="374.0" cy="126.9" r="1.75"/><circle cx="380.8" cy="126.4" r="1.75"/><circle cx="383.0" cy="127.3" r="1.75"/><circle cx="387.7" cy="126.9" r="1.75"/><circle cx="389.8" cy="126.9" r="1.75"/><circle cx="371.4" cy="129.4" r="1.75"/><circle cx="374.4" cy="129.8" r="1.75"/><circle cx="377.4" cy="129.4" r="1.75"/><circle cx="379.5" cy="129.8" r="1.75"/><circle cx="385.9" cy="130.3" r="1.75"/><circle cx="386.8" cy="129.0" r="1.75"/><circle cx="394.9" cy="130.7" r="1.75"/><circle cx="371.4" cy="132.4" r="1.75"/><circle cx="375.3" cy="132.8" r="1.75"/><circle cx="377.8" cy="134.1" r="1.75"/><circle cx="383.0" cy="133.7" r="1.75"/><circle cx="385.1" cy="132.0" r="1.75"/><circle cx="391.1" cy="132.8" r="1.75"/><circle cx="396.2" cy="135.4" r="1.75"/><circle cx="394.1" cy="137.5" r="1.75"/><circle cx="371.4" cy="135.4" r="1.75"/><circle cx="374.4" cy="136.3" r="1.75"/><circle cx="378.7" cy="138.4" r="1.75"/><circle cx="380.0" cy="137.1" r="1.75"/><circle cx="384.2" cy="136.3" r="1.75"/><circle cx="388.5" cy="137.5" r="1.75"/><circle cx="390.2" cy="135.8" r="1.75"/><circle cx="371.4" cy="138.8" r="1.75"/><circle cx="371.4" cy="141.4" r="1.75"/><circle cx="375.7" cy="140.1" r="1.75"/><circle cx="380.8" cy="140.1" r="1.75"/><circle cx="382.1" cy="141.8" r="1.75"/><circle cx="384.2" cy="143.1" r="1.75"/><circle cx="388.9" cy="140.5" r="1.75"/><circle cx="391.1" cy="144.0" r="1.75"/><circle cx="392.8" cy="145.2" r="1.75"/><circle cx="377.4" cy="144.0" r="1.75"/><circle cx="379.5" cy="145.2" r="1.75"/><circle cx="380.8" cy="146.9" r="1.75"/><circle cx="387.2" cy="146.1" r="1.75"/><circle cx="371.4" cy="144.4" r="1.75"/><circle cx="371.4" cy="147.4" r="1.75"/><circle cx="374.4" cy="148.2" r="1.75"/><circle cx="376.5" cy="148.6" r="1.75"/><circle cx="394.5" cy="147.8" r="1.75"/><circle cx="396.6" cy="149.1" r="1.75"/><circle cx="389.4" cy="149.1" r="1.75"/><circle cx="407.3" cy="150.0" r="1.75"/><circle cx="406.6" cy="155.0" r="1.75"/><circle cx="408.7" cy="159.2" r="1.75"/><circle cx="411.6" cy="161.4" r="1.75"/><circle cx="402.3" cy="151.4" r="1.75"/><circle cx="400.9" cy="158.5" r="1.75"/><circle cx="404.5" cy="165.6" r="1.75"/><circle cx="411.6" cy="169.2" r="1.75"/><circle cx="403.3" cy="174.2" r="1.75"/><circle cx="408.7" cy="177.3" r="1.75"/><circle cx="412.3" cy="178.5" r="1.75"/><circle cx="415.9" cy="145.0" r="1.75"/><circle cx="412.3" cy="140.0" r="1.75"/><circle cx="392.4" cy="145.7" r="1.75"/><circle cx="387.4" cy="146.4" r="1.75"/><circle cx="408.7" cy="177.1" r="1.75"/><circle cx="412.3" cy="178.6" r="1.75"/><circle cx="404.5" cy="180.0" r="1.75"/><circle cx="406.6" cy="185.0" r="1.75"/><circle cx="412.3" cy="187.1" r="1.75"/><circle cx="403.7" cy="189.2" r="1.75"/><circle cx="408.7" cy="190.7" r="1.75"/><circle cx="410.9" cy="192.8" r="1.75"/><circle cx="414.4" cy="193.5" r="1.75"/><circle cx="405.2" cy="195.0" r="1.75"/><circle cx="413.7" cy="197.8" r="1.75"/><circle cx="407.3" cy="198.5" r="1.75"/><circle cx="403.7" cy="202.8" r="1.75"/><circle cx="408.7" cy="203.5" r="1.75"/><circle cx="413.0" cy="205.6" r="1.75"/><circle cx="410.2" cy="209.2" r="1.75"/><circle cx="405.2" cy="207.8" r="1.75"/><circle cx="405.9" cy="212.0" r="1.75"/><circle cx="413.7" cy="211.3" r="1.75"/><circle cx="405.4" cy="193.0" r="1.75"/><circle cx="410.7" cy="192.2" r="1.75"/><circle cx="406.9" cy="196.7" r="1.75"/><circle cx="414.4" cy="194.5" r="1.75"/><circle cx="417.4" cy="196.0" r="1.75"/><circle cx="424.9" cy="194.2" r="1.75"/><circle cx="435.3" cy="192.2" r="1.75"/><circle cx="440.5" cy="192.2" r="1.75"/><circle cx="409.2" cy="200.4" r="1.75"/><circle cx="415.9" cy="199.0" r="1.75"/><circle cx="421.9" cy="201.2" r="1.75"/><circle cx="426.3" cy="203.4" r="1.75"/><circle cx="435.3" cy="200.4" r="1.75"/><circle cx="404.0" cy="204.2" r="1.75"/><circle cx="411.4" cy="204.9" r="1.75"/><circle cx="414.4" cy="204.6" r="1.75"/><circle cx="421.1" cy="205.7" r="1.75"/><circle cx="430.8" cy="204.9" r="1.75"/><circle cx="439.8" cy="205.7" r="1.75"/><circle cx="417.4" cy="208.7" r="1.75"/><circle cx="420.4" cy="207.9" r="1.75"/><circle cx="406.9" cy="209.4" r="1.75"/><circle cx="410.7" cy="210.9" r="1.75"/><circle cx="422.6" cy="210.9" r="1.75"/><circle cx="430.8" cy="209.4" r="1.75"/><circle cx="434.6" cy="210.9" r="1.75"/><circle cx="438.3" cy="212.4" r="1.75"/><circle cx="442.8" cy="209.4" r="1.75"/><circle cx="401.7" cy="213.1" r="1.75"/><circle cx="405.4" cy="215.4" r="1.75"/><circle cx="414.4" cy="213.9" r="1.75"/><circle cx="418.9" cy="213.9" r="1.75"/><circle cx="424.9" cy="214.6" r="1.75"/><circle cx="433.1" cy="214.6" r="1.75"/><circle cx="436.0" cy="216.9" r="1.75"/><circle cx="441.3" cy="216.1" r="1.75"/><circle cx="408.4" cy="218.4" r="1.75"/><circle cx="412.9" cy="217.6" r="1.75"/><circle cx="415.9" cy="218.4" r="1.75"/><circle cx="421.9" cy="219.1" r="1.75"/><circle cx="427.8" cy="220.6" r="1.75"/><circle cx="430.8" cy="219.9" r="1.75"/><circle cx="434.6" cy="219.9" r="1.75"/><circle cx="438.3" cy="219.1" r="1.75"/><circle cx="402.5" cy="221.3" r="1.75"/><circle cx="406.9" cy="222.1" r="1.75"/><circle cx="411.4" cy="222.8" r="1.75"/><circle cx="417.4" cy="222.1" r="1.75"/><circle cx="422.6" cy="223.6" r="1.75"/><circle cx="429.3" cy="222.8" r="1.75"/><circle cx="433.8" cy="223.6" r="1.75"/><circle cx="439.8" cy="223.6" r="1.75"/><circle cx="401.0" cy="225.8" r="1.75"/><circle cx="404.0" cy="226.6" r="1.75"/><circle cx="413.7" cy="225.1" r="1.75"/><circle cx="418.1" cy="225.8" r="1.75"/><circle cx="424.1" cy="225.1" r="1.75"/><circle cx="442.8" cy="225.8" r="1.75"/><circle cx="401.6" cy="151.6" r="1.75"/><circle cx="406.4" cy="150.8" r="1.75"/><circle cx="406.4" cy="155.6" r="1.75"/><circle cx="400.8" cy="157.7" r="1.75"/><circle cx="408.0" cy="159.6" r="1.75"/><circle cx="411.2" cy="161.2" r="1.75"/><circle cx="429.2" cy="158.8" r="1.75"/><circle cx="437.2" cy="155.6" r="1.75"/><circle cx="439.3" cy="160.4" r="1.75"/><circle cx="401.6" cy="165.2" r="1.75"/><circle cx="404.0" cy="165.7" r="1.75"/><circle cx="412.0" cy="169.2" r="1.75"/><circle cx="424.5" cy="171.2" r="1.75"/><circle cx="437.7" cy="168.4" r="1.75"/><circle cx="448.1" cy="173.2" r="1.75"/><circle cx="403.2" cy="174.8" r="1.75"/><circle cx="408.8" cy="177.2" r="1.75"/><circle cx="412.0" cy="178.8" r="1.75"/><circle cx="446.5" cy="180.4" r="1.75"/><circle cx="433.7" cy="182.9" r="1.75"/><circle cx="404.8" cy="180.4" r="1.75"/><circle cx="406.4" cy="184.5" r="1.75"/><circle cx="416.8" cy="186.1" r="1.75"/><circle cx="412.0" cy="186.9" r="1.75"/><circle cx="425.6" cy="188.5" r="1.75"/><circle cx="432.9" cy="186.9" r="1.75"/><circle cx="434.5" cy="188.5" r="1.75"/><circle cx="439.3" cy="189.3" r="1.75"/><circle cx="444.1" cy="186.5" r="1.75"/><circle cx="409.6" cy="191.7" r="1.75"/><circle cx="425.6" cy="193.3" r="1.75"/><circle cx="436.1" cy="192.0" r="1.75"/><circle cx="440.9" cy="192.0" r="1.75"/><circle cx="406.4" cy="193.3" r="1.75"/><circle cx="429.4" cy="130.9" r="1.75"/><circle cx="429.4" cy="137.2" r="1.75"/><circle cx="417.0" cy="144.6" r="1.75"/><circle cx="406.8" cy="149.9" r="1.75"/><circle cx="437.2" cy="154.8" r="1.75"/><circle cx="461.0" cy="156.8" r="1.75"/><circle cx="461.0" cy="162.8" r="1.75"/><circle cx="488.0" cy="164.6" r="1.75"/><circle cx="488.9" cy="177.6" r="1.75"/><circle cx="441.4" cy="191.8" r="1.75"/><circle cx="456.5" cy="187.4" r="1.75"/><circle cx="472.4" cy="187.0" r="1.75"/><circle cx="459.6" cy="192.7" r="1.75"/><circle cx="487.2" cy="195.0" r="1.75"/><circle cx="443.6" cy="198.9" r="1.75"/><circle cx="451.6" cy="199.5" r="1.75"/><circle cx="455.1" cy="198.0" r="1.75"/><circle cx="462.2" cy="199.8" r="1.75"/><circle cx="443.0" cy="199.7" r="1.75"/><circle cx="451.2" cy="200.2" r="1.75"/><circle cx="455.0" cy="198.2" r="1.75"/><circle cx="457.6" cy="202.0" r="1.75"/><circle cx="460.2" cy="203.5" r="1.75"/><circle cx="462.4" cy="200.2" r="1.75"/><circle cx="458.7" cy="204.2" r="1.75"/><circle cx="445.2" cy="203.2" r="1.75"/><circle cx="440.7" cy="205.0" r="1.75"/><circle cx="481.9" cy="203.2" r="1.75"/><circle cx="471.4" cy="206.4" r="1.75"/><circle cx="476.6" cy="206.7" r="1.75"/><circle cx="493.1" cy="206.7" r="1.75"/><circle cx="484.8" cy="209.1" r="1.75"/><circle cx="443.7" cy="207.9" r="1.75"/><circle cx="446.7" cy="208.7" r="1.75"/><circle cx="450.5" cy="207.9" r="1.75"/><circle cx="458.7" cy="209.4" r="1.75"/><circle cx="452.7" cy="211.7" r="1.75"/><circle cx="455.0" cy="210.2" r="1.75"/><circle cx="466.2" cy="210.2" r="1.75"/><circle cx="467.7" cy="211.7" r="1.75"/><circle cx="442.2" cy="212.4" r="1.75"/><circle cx="446.0" cy="213.9" r="1.75"/><circle cx="449.0" cy="213.2" r="1.75"/><circle cx="451.2" cy="214.7" r="1.75"/><circle cx="456.4" cy="213.2" r="1.75"/><circle cx="460.9" cy="213.9" r="1.75"/><circle cx="465.4" cy="213.2" r="1.75"/><circle cx="475.6" cy="214.7" r="1.75"/><circle cx="499.8" cy="215.4" r="1.75"/><circle cx="443.0" cy="217.7" r="1.75"/><circle cx="448.2" cy="216.9" r="1.75"/><circle cx="450.5" cy="218.4" r="1.75"/><circle cx="455.0" cy="217.7" r="1.75"/><circle cx="459.4" cy="216.9" r="1.75"/><circle cx="462.4" cy="218.4" r="1.75"/><circle cx="487.1" cy="217.7" r="1.75"/><circle cx="475.1" cy="219.9" r="1.75"/><circle cx="441.5" cy="220.6" r="1.75"/><circle cx="446.0" cy="219.9" r="1.75"/><circle cx="455.0" cy="221.4" r="1.75"/><circle cx="460.2" cy="221.4" r="1.75"/><circle cx="464.7" cy="221.4" r="1.75"/><circle cx="467.7" cy="220.6" r="1.75"/><circle cx="477.4" cy="222.1" r="1.75"/><circle cx="491.6" cy="222.1" r="1.75"/><circle cx="440.7" cy="224.4" r="1.75"/><circle cx="448.2" cy="222.9" r="1.75"/><circle cx="454.2" cy="224.4" r="1.75"/><circle cx="460.9" cy="223.6" r="1.75"/><circle cx="474.4" cy="224.7" r="1.75"/><circle cx="478.9" cy="223.6" r="1.75"/><circle cx="448.2" cy="227.1" r="1.75"/><circle cx="460.2" cy="226.2" r="1.75"/><circle cx="464.7" cy="227.1" r="1.75"/><circle cx="530.6" cy="150.0" r="1.75"/><circle cx="545.1" cy="144.5" r="1.75"/><circle cx="546.9" cy="142.7" r="1.75"/><circle cx="512.1" cy="185.5" r="1.75"/><circle cx="511.3" cy="198.2" r="1.75"/><circle cx="516.0" cy="200.8" r="1.75"/><circle cx="532.0" cy="194.2" r="1.75"/><circle cx="538.6" cy="193.5" r="1.75"/><circle cx="554.9" cy="196.1" r="1.75"/><circle cx="500.4" cy="215.3" r="1.75"/><circle cx="513.9" cy="211.7" r="1.75"/><circle cx="536.7" cy="211.7" r="1.75"/><circle cx="513.1" cy="221.8" r="1.75"/><circle cx="519.7" cy="223.6" r="1.75"/><circle cx="512.4" cy="226.9" r="1.75"/><circle cx="481.3" cy="113.8" r="1.75"/><circle cx="547.3" cy="112.9" r="1.75"/><circle cx="580.5" cy="170.0" r="1.75"/><circle cx="594.4" cy="179.4" r="1.75"/><circle cx="555.7" cy="195.6" r="1.75"/><circle cx="561.5" cy="190.1" r="1.75"/><circle cx="563.5" cy="194.6" r="1.75"/><circle cx="579.7" cy="186.6" r="1.75"/><circle cx="586.4" cy="185.6" r="1.75"/><circle cx="598.7" cy="184.2" r="1.75"/><circle cx="582.1" cy="191.1" r="1.75"/><circle cx="587.9" cy="190.1" r="1.75"/><circle cx="597.7" cy="190.1" r="1.75"/><circle cx="571.3" cy="196.0" r="1.75"/><circle cx="576.2" cy="195.0" r="1.75"/><circle cx="579.1" cy="197.0" r="1.75"/><circle cx="585.0" cy="196.0" r="1.75"/><circle cx="589.9" cy="197.0" r="1.75"/><circle cx="564.5" cy="198.9" r="1.75"/><circle cx="567.4" cy="200.5" r="1.75"/><circle cx="573.3" cy="199.9" r="1.75"/><circle cx="577.2" cy="200.9" r="1.75"/><circle cx="582.1" cy="199.9" r="1.75"/><circle cx="587.0" cy="200.9" r="1.75"/><circle cx="591.9" cy="199.9" r="1.75"/><circle cx="596.8" cy="197.0" r="1.75"/><circle cx="571.3" cy="203.8" r="1.75"/><circle cx="585.0" cy="203.8" r="1.75"/><circle cx="593.8" cy="202.8" r="1.75"/><circle cx="598.7" cy="201.9" r="1.75"/><circle cx="587.4" cy="189.6" r="1.75"/><circle cx="576.7" cy="193.7" r="1.75"/><circle cx="582.0" cy="192.8" r="1.75"/><circle cx="584.7" cy="191.0" r="1.75"/><circle cx="597.2" cy="192.8" r="1.75"/><circle cx="571.4" cy="197.2" r="1.75"/><circle cx="574.9" cy="195.5" r="1.75"/><circle cx="579.4" cy="197.2" r="1.75"/><circle cx="587.4" cy="196.4" r="1.75"/><circle cx="591.8" cy="195.5" r="1.75"/><circle cx="598.9" cy="196.4" r="1.75"/><circle cx="562.5" cy="198.1" r="1.75"/><circle cx="566.9" cy="199.9" r="1.75"/><circle cx="573.1" cy="200.8" r="1.75"/><circle cx="576.7" cy="201.7" r="1.75"/><circle cx="581.1" cy="199.9" r="1.75"/><circle cx="585.6" cy="199.9" r="1.75"/><circle cx="592.7" cy="201.7" r="1.75"/><circle cx="597.2" cy="199.9" r="1.75"/><circle cx="569.6" cy="203.5" r="1.75"/><circle cx="574.9" cy="204.4" r="1.75"/><circle cx="579.4" cy="203.5" r="1.75"/><circle cx="563.3" cy="205.2" r="1.75"/><circle cx="567.8" cy="206.7" r="1.75"/><circle cx="573.1" cy="207.9" r="1.75"/><circle cx="582.9" cy="207.9" r="1.75"/><circle cx="587.4" cy="207.0" r="1.75"/><circle cx="592.7" cy="206.1" r="1.75"/><circle cx="597.2" cy="207.9" r="1.75"/><circle cx="564.2" cy="207.9" r="1.75"/><circle cx="588.3" cy="211.5" r="1.75"/><circle cx="593.6" cy="210.6" r="1.75"/><circle cx="598.0" cy="209.7" r="1.75"/><circle cx="577.0" cy="213.3" r="1.75"/><circle cx="586.5" cy="215.0" r="1.75"/><circle cx="599.5" cy="215.0" r="1.75"/><circle cx="602.5" cy="162.0" r="1.75"/><circle cx="594.0" cy="179.2" r="1.75"/><circle cx="620.4" cy="183.7" r="1.75"/><circle cx="630.8" cy="189.2" r="1.75"/><circle cx="625.4" cy="198.4" r="1.75"/><circle cx="598.7" cy="185.0" r="1.75"/><circle cx="601.2" cy="184.2" r="1.75"/><circle cx="602.9" cy="185.0" r="1.75"/><circle cx="599.5" cy="187.0" r="1.75"/><circle cx="602.0" cy="187.5" r="1.75"/><circle cx="607.0" cy="186.7" r="1.75"/><circle cx="596.2" cy="190.0" r="1.75"/><circle cx="598.7" cy="191.7" r="1.75"/><circle cx="600.4" cy="193.1" r="1.75"/><circle cx="597.0" cy="194.7" r="1.75"/><circle cx="599.0" cy="196.4" r="1.75"/><circle cx="603.4" cy="196.7" r="1.75"/><circle cx="592.8" cy="195.9" r="1.75"/><circle cx="599.5" cy="199.2" r="1.75"/><circle cx="603.7" cy="200.9" r="1.75"/><circle cx="605.7" cy="199.7" r="1.75"/><circle cx="608.4" cy="198.4" r="1.75"/><circle cx="594.5" cy="201.8" r="1.75"/><circle cx="595.3" cy="204.3" r="1.75"/><circle cx="592.8" cy="206.8" r="1.75"/><circle cx="595.3" cy="208.4" r="1.75"/><circle cx="598.4" cy="209.8" r="1.75"/><circle cx="610.4" cy="210.5" r="1.75"/><circle cx="601.2" cy="215.5" r="1.75"/><circle cx="607.9" cy="218.5" r="1.75"/><circle cx="569.2" cy="227.8" r="1.75"/><circle cx="377.4" cy="147.0" r="1.75"/><circle cx="380.8" cy="165.5" r="1.75"/><circle cx="392.8" cy="168.0" r="1.75"/><circle cx="393.4" cy="152.9" r="1.75"/><circle cx="395.9" cy="159.6" r="1.75"/><circle cx="378.5" cy="162.7" r="1.75"/><circle cx="394.4" cy="170.6" r="1.75"/><circle cx="394.5" cy="154.5" r="1.75"/><circle cx="377.6" cy="169.6" r="1.75"/><circle cx="390.7" cy="164.0" r="1.75"/><circle cx="391.8" cy="171.5" r="1.75"/><circle cx="385.3" cy="167.8" r="1.75"/><circle cx="392.9" cy="168.3" r="1.75"/><circle cx="384.2" cy="164.8" r="1.75"/><circle cx="388.6" cy="154.0" r="1.75"/><circle cx="376.7" cy="162.2" r="1.75"/><circle cx="372.2" cy="169.7" r="1.75"/><circle cx="373.2" cy="170.2" r="1.75"/><circle cx="381.1" cy="149.7" r="1.75"/><circle cx="392.7" cy="162.5" r="1.75"/><circle cx="392.9" cy="165.2" r="1.75"/><circle cx="371.8" cy="161.4" r="1.75"/><circle cx="381.7" cy="167.3" r="1.75"/><circle cx="397.0" cy="169.2" r="1.75"/><circle cx="371.8" cy="168.6" r="1.75"/><circle cx="400.1" cy="170.6" r="1.75"/><circle cx="373.2" cy="151.3" r="1.75"/><circle cx="397.9" cy="167.1" r="1.75"/><circle cx="390.8" cy="167.5" r="1.75"/><circle cx="390.7" cy="153.5" r="1.75"/><circle cx="372.9" cy="148.5" r="1.75"/><circle cx="380.3" cy="157.0" r="1.75"/><circle cx="370.3" cy="152.7" r="1.75"/><circle cx="379.0" cy="164.6" r="1.75"/><circle cx="381.9" cy="154.3" r="1.75"/><circle cx="398.0" cy="162.1" r="1.75"/><circle cx="370.6" cy="156.7" r="1.75"/><circle cx="384.2" cy="166.1" r="1.75"/><circle cx="381.2" cy="164.3" r="1.75"/><circle cx="387.6" cy="151.6" r="1.75"/><circle cx="369.6" cy="151.3" r="1.75"/><circle cx="395.1" cy="171.4" r="1.75"/><circle cx="369.7" cy="158.8" r="1.75"/><circle cx="386.0" cy="166.7" r="1.75"/><circle cx="375.8" cy="158.9" r="1.75"/><circle cx="381.2" cy="167.6" r="1.75"/><circle cx="378.3" cy="170.5" r="1.75"/><circle cx="393.0" cy="159.0" r="1.75"/><circle cx="373.3" cy="162.5" r="1.75"/><circle cx="372.3" cy="166.5" r="1.75"/><circle cx="392.9" cy="166.5" r="1.75"/><circle cx="390.6" cy="155.2" r="1.75"/><circle cx="383.0" cy="156.3" r="1.75"/><circle cx="376.5" cy="152.8" r="1.75"/><circle cx="382.3" cy="169.0" r="1.75"/><circle cx="377.4" cy="158.0" r="1.75"/><circle cx="387.4" cy="165.6" r="1.75"/><circle cx="394.7" cy="162.8" r="1.75"/><circle cx="381.2" cy="154.5" r="1.75"/><circle cx="374.8" cy="167.9" r="1.75"/><circle cx="391.7" cy="165.3" r="1.75"/><circle cx="375.3" cy="157.4" r="1.75"/><circle cx="395.4" cy="161.1" r="1.75"/><circle cx="373.8" cy="158.0" r="1.75"/><circle cx="376.0" cy="153.8" r="1.75"/><circle cx="393.1" cy="167.9" r="1.75"/><circle cx="374.8" cy="150.1" r="1.75"/><circle cx="377.9" cy="154.5" r="1.75"/><circle cx="387.0" cy="150.2" r="1.75"/><circle cx="373.0" cy="171.0" r="1.75"/><circle cx="373.0" cy="156.0" r="1.75"/><circle cx="394.1" cy="157.3" r="1.75"/><circle cx="376.2" cy="162.6" r="1.75"/><circle cx="373.2" cy="151.4" r="1.75"/><circle cx="382.9" cy="166.6" r="1.75"/><circle cx="392.8" cy="159.0" r="1.75"/><circle cx="390.7" cy="158.0" r="1.75"/><circle cx="374.3" cy="161.7" r="1.75"/><circle cx="383.1" cy="165.3" r="1.75"/><circle cx="383.7" cy="151.9" r="1.75"/><circle cx="393.7" cy="168.9" r="1.75"/><circle cx="395.5" cy="164.2" r="1.75"/><circle cx="398.1" cy="163.7" r="1.75"/><circle cx="391.0" cy="157.8" r="1.75"/><circle cx="380.1" cy="162.3" r="1.75"/><circle cx="372.9" cy="156.9" r="1.75"/><circle cx="395.7" cy="164.5" r="1.75"/><circle cx="390.6" cy="152.5" r="1.75"/><circle cx="383.7" cy="157.8" r="1.75"/><circle cx="390.4" cy="156.6" r="1.75"/><circle cx="392.2" cy="170.2" r="1.75"/><circle cx="375.7" cy="163.0" r="1.75"/><circle cx="395.6" cy="156.1" r="1.75"/><circle cx="386.0" cy="171.3" r="1.75"/><circle cx="370.9" cy="160.1" r="1.75"/><circle cx="375.0" cy="166.3" r="1.75"/><circle cx="373.0" cy="160.9" r="1.75"/><circle cx="387.7" cy="164.6" r="1.75"/><circle cx="386.7" cy="162.6" r="1.75"/><circle cx="397.3" cy="159.6" r="1.75"/><circle cx="383.3" cy="170.6" r="1.75"/><circle cx="376.6" cy="163.8" r="1.75"/><circle cx="382.7" cy="165.8" r="1.75"/><circle cx="373.7" cy="171.6" r="1.75"/><circle cx="378.8" cy="156.4" r="1.75"/><circle cx="370.0" cy="156.9" r="1.75"/><circle cx="383.6" cy="164.2" r="1.75"/><circle cx="381.4" cy="152.9" r="1.75"/><circle cx="377.1" cy="165.3" r="1.75"/><circle cx="376.9" cy="166.8" r="1.75"/><circle cx="382.7" cy="151.5" r="1.75"/><circle cx="373.9" cy="166.2" r="1.75"/><circle cx="396.6" cy="162.5" r="1.75"/><circle cx="385.3" cy="160.6" r="1.75"/><circle cx="377.1" cy="171.1" r="1.75"/><circle cx="381.4" cy="162.6" r="1.75"/><circle cx="396.9" cy="167.2" r="1.75"/><circle cx="385.2" cy="153.7" r="1.75"/><circle cx="387.9" cy="149.3" r="1.75"/><circle cx="382.2" cy="152.6" r="1.75"/><circle cx="383.0" cy="182.6" r="1.75"/><circle cx="369.7" cy="213.1" r="1.75"/><circle cx="378.4" cy="186.0" r="1.75"/><circle cx="379.1" cy="199.3" r="1.75"/><circle cx="383.1" cy="208.3" r="1.75"/><circle cx="390.3" cy="192.7" r="1.75"/><circle cx="371.4" cy="219.2" r="1.75"/><circle cx="398.0" cy="216.7" r="1.75"/><circle cx="389.5" cy="172.9" r="1.75"/><circle cx="370.0" cy="226.3" r="1.75"/><circle cx="390.2" cy="186.3" r="1.75"/><circle cx="372.8" cy="180.1" r="1.75"/><circle cx="376.9" cy="216.2" r="1.75"/><circle cx="380.5" cy="180.7" r="1.75"/><circle cx="398.0" cy="217.1" r="1.75"/><circle cx="374.9" cy="222.8" r="1.75"/><circle cx="388.7" cy="216.5" r="1.75"/><circle cx="390.6" cy="223.0" r="1.75"/><circle cx="394.3" cy="219.8" r="1.75"/><circle cx="375.8" cy="211.5" r="1.75"/><circle cx="386.3" cy="214.3" r="1.75"/><circle cx="387.0" cy="187.1" r="1.75"/><circle cx="377.0" cy="179.9" r="1.75"/><circle cx="385.1" cy="175.3" r="1.75"/><circle cx="384.3" cy="180.2" r="1.75"/><circle cx="385.0" cy="200.4" r="1.75"/><circle cx="369.8" cy="219.9" r="1.75"/><circle cx="384.3" cy="204.1" r="1.75"/><circle cx="390.5" cy="219.9" r="1.75"/><circle cx="381.4" cy="195.9" r="1.75"/><circle cx="399.8" cy="176.3" r="1.75"/><circle cx="389.6" cy="208.3" r="1.75"/><circle cx="370.5" cy="206.8" r="1.75"/><circle cx="391.0" cy="225.1" r="1.75"/><circle cx="380.0" cy="228.0" r="1.75"/><circle cx="385.6" cy="199.6" r="1.75"/><circle cx="397.8" cy="173.9" r="1.75"/><circle cx="392.2" cy="207.6" r="1.75"/><circle cx="381.1" cy="199.0" r="1.75"/><circle cx="386.1" cy="215.9" r="1.75"/><circle cx="376.2" cy="196.8" r="1.75"/><circle cx="382.9" cy="203.6" r="1.75"/><circle cx="395.6" cy="188.7" r="1.75"/><circle cx="395.6" cy="195.0" r="1.75"/><circle cx="385.4" cy="187.5" r="1.75"/><circle cx="385.5" cy="227.6" r="1.75"/><circle cx="390.2" cy="217.1" r="1.75"/><circle cx="380.0" cy="190.1" r="1.75"/><circle cx="379.0" cy="205.4" r="1.75"/><circle cx="389.5" cy="216.7" r="1.75"/><circle cx="370.9" cy="213.2" r="1.75"/><circle cx="397.4" cy="203.1" r="1.75"/><circle cx="371.2" cy="189.1" r="1.75"/><circle cx="369.8" cy="182.8" r="1.75"/><circle cx="398.5" cy="206.7" r="1.75"/><circle cx="390.3" cy="217.0" r="1.75"/><circle cx="398.2" cy="206.9" r="1.75"/><circle cx="389.0" cy="207.7" r="1.75"/><circle cx="391.5" cy="206.0" r="1.75"/><circle cx="391.0" cy="184.1" r="1.75"/><circle cx="390.5" cy="198.1" r="1.75"/><circle cx="393.5" cy="177.8" r="1.75"/><circle cx="375.3" cy="174.1" r="1.75"/><circle cx="393.9" cy="224.1" r="1.75"/><circle cx="390.2" cy="193.0" r="1.75"/><circle cx="395.4" cy="216.8" r="1.75"/><circle cx="387.2" cy="186.7" r="1.75"/><circle cx="379.1" cy="196.0" r="1.75"/><circle cx="379.6" cy="196.5" r="1.75"/><circle cx="389.8" cy="225.2" r="1.75"/><circle cx="371.3" cy="204.3" r="1.75"/><circle cx="370.8" cy="178.8" r="1.75"/><circle cx="395.0" cy="204.8" r="1.75"/><circle cx="398.4" cy="197.4" r="1.75"/><circle cx="370.0" cy="194.1" r="1.75"/><circle cx="400.4" cy="199.1" r="1.75"/><circle cx="382.5" cy="177.8" r="1.75"/><circle cx="389.8" cy="184.1" r="1.75"/><circle cx="374.4" cy="172.9" r="1.75"/><circle cx="369.8" cy="211.0" r="1.75"/><circle cx="373.4" cy="227.1" r="1.75"/><circle cx="372.4" cy="221.6" r="1.75"/><circle cx="373.6" cy="173.0" r="1.75"/><circle cx="392.2" cy="185.8" r="1.75"/><circle cx="392.6" cy="182.7" r="1.75"/><circle cx="371.2" cy="216.1" r="1.75"/><circle cx="392.0" cy="220.8" r="1.75"/><circle cx="392.5" cy="176.8" r="1.75"/><circle cx="389.3" cy="212.4" r="1.75"/><circle cx="377.6" cy="227.0" r="1.75"/><circle cx="392.1" cy="172.6" r="1.75"/><circle cx="370.1" cy="209.1" r="1.75"/><circle cx="395.3" cy="176.5" r="1.75"/><circle cx="384.9" cy="175.4" r="1.75"/><circle cx="381.1" cy="204.8" r="1.75"/><circle cx="381.0" cy="208.8" r="1.75"/><circle cx="389.4" cy="195.8" r="1.75"/><circle cx="381.7" cy="216.8" r="1.75"/><circle cx="387.4" cy="188.7" r="1.75"/><circle cx="371.5" cy="227.5" r="1.75"/><circle cx="391.7" cy="219.2" r="1.75"/><circle cx="380.0" cy="206.5" r="1.75"/><circle cx="388.5" cy="189.6" r="1.75"/><circle cx="381.4" cy="211.0" r="1.75"/><circle cx="395.0" cy="188.1" r="1.75"/><circle cx="369.7" cy="187.0" r="1.75"/><circle cx="382.9" cy="205.4" r="1.75"/><circle cx="395.2" cy="222.6" r="1.75"/><circle cx="370.9" cy="219.5" r="1.75"/><circle cx="395.1" cy="221.4" r="1.75"/><circle cx="387.6" cy="187.6" r="1.75"/><circle cx="396.3" cy="218.0" r="1.75"/><circle cx="391.1" cy="224.1" r="1.75"/><circle cx="380.5" cy="176.8" r="1.75"/><circle cx="387.0" cy="217.5" r="1.75"/><circle cx="375.9" cy="214.8" r="1.75"/><circle cx="398.9" cy="185.3" r="1.75"/><circle cx="388.7" cy="210.6" r="1.75"/><circle cx="384.2" cy="183.8" r="1.75"/><circle cx="377.6" cy="214.8" r="1.75"/><circle cx="394.5" cy="198.2" r="1.75"/><circle cx="393.8" cy="185.3" r="1.75"/><circle cx="397.4" cy="201.7" r="1.75"/><circle cx="384.6" cy="205.6" r="1.75"/><circle cx="375.5" cy="183.0" r="1.75"/><circle cx="375.3" cy="212.0" r="1.75"/><circle cx="381.0" cy="204.2" r="1.75"/><circle cx="382.2" cy="201.5" r="1.75"/><circle cx="374.3" cy="174.5" r="1.75"/><circle cx="400.9" cy="193.3" r="1.75"/><circle cx="372.9" cy="208.1" r="1.75"/><circle cx="394.3" cy="180.9" r="1.75"/><circle cx="388.4" cy="191.7" r="1.75"/><circle cx="385.9" cy="173.2" r="1.75"/><circle cx="370.7" cy="228.5" r="1.75"/><circle cx="396.8" cy="199.7" r="1.75"/><circle cx="387.4" cy="186.9" r="1.75"/><circle cx="394.1" cy="196.3" r="1.75"/><circle cx="395.3" cy="226.9" r="1.75"/><circle cx="377.6" cy="174.2" r="1.75"/><circle cx="375.9" cy="182.3" r="1.75"/><circle cx="372.2" cy="174.9" r="1.75"/><circle cx="384.0" cy="226.0" r="1.75"/><circle cx="398.2" cy="175.7" r="1.75"/><circle cx="388.4" cy="194.7" r="1.75"/><circle cx="373.4" cy="226.7" r="1.75"/><circle cx="377.7" cy="204.2" r="1.75"/><circle cx="389.7" cy="226.5" r="1.75"/><circle cx="390.6" cy="194.4" r="1.75"/><circle cx="383.7" cy="181.1" r="1.75"/><circle cx="376.6" cy="174.2" r="1.75"/><circle cx="377.6" cy="192.1" r="1.75"/><circle cx="395.9" cy="174.7" r="1.75"/><circle cx="394.3" cy="212.4" r="1.75"/><circle cx="389.9" cy="228.2" r="1.75"/><circle cx="371.4" cy="180.3" r="1.75"/><circle cx="393.3" cy="225.5" r="1.75"/><circle cx="390.9" cy="189.0" r="1.75"/><circle cx="388.2" cy="215.2" r="1.75"/><circle cx="372.9" cy="190.5" r="1.75"/><circle cx="377.7" cy="179.1" r="1.75"/><circle cx="384.7" cy="181.6" r="1.75"/><circle cx="377.1" cy="180.2" r="1.75"/><circle cx="390.9" cy="172.7" r="1.75"/><circle cx="392.1" cy="183.1" r="1.75"/><circle cx="370.7" cy="224.9" r="1.75"/><circle cx="376.5" cy="225.2" r="1.75"/><circle cx="396.8" cy="222.7" r="1.75"/><circle cx="374.0" cy="197.5" r="1.75"/><circle cx="372.6" cy="224.9" r="1.75"/><circle cx="396.0" cy="207.8" r="1.75"/><circle cx="383.8" cy="191.4" r="1.75"/><circle cx="395.4" cy="199.2" r="1.75"/><circle cx="389.3" cy="180.1" r="1.75"/><circle cx="376.6" cy="175.2" r="1.75"/><circle cx="392.0" cy="203.5" r="1.75"/><circle cx="374.1" cy="221.6" r="1.75"/><circle cx="378.0" cy="195.5" r="1.75"/><circle cx="374.5" cy="187.5" r="1.75"/><circle cx="396.0" cy="191.1" r="1.75"/><circle cx="374.9" cy="200.0" r="1.75"/><circle cx="379.6" cy="223.5" r="1.75"/><circle cx="373.2" cy="227.8" r="1.75"/><circle cx="371.4" cy="223.0" r="1.75"/><circle cx="390.6" cy="184.0" r="1.75"/><circle cx="384.6" cy="188.3" r="1.75"/><circle cx="377.7" cy="183.5" r="1.75"/><circle cx="381.0" cy="228.5" r="1.75"/><circle cx="372.7" cy="188.5" r="1.75"/><circle cx="397.7" cy="175.3" r="1.75"/><circle cx="392.4" cy="188.7" r="1.75"/><circle cx="394.9" cy="191.4" r="1.75"/><circle cx="374.0" cy="172.1" r="1.75"/><circle cx="395.7" cy="202.0" r="1.75"/><circle cx="375.4" cy="196.8" r="1.75"/><circle cx="398.2" cy="184.4" r="1.75"/><circle cx="387.5" cy="179.9" r="1.75"/><circle cx="391.9" cy="183.2" r="1.75"/><circle cx="372.1" cy="177.0" r="1.75"/><circle cx="388.7" cy="200.2" r="1.75"/><circle cx="378.2" cy="183.7" r="1.75"/><circle cx="388.8" cy="212.3" r="1.75"/><circle cx="395.1" cy="205.2" r="1.75"/><circle cx="376.0" cy="175.7" r="1.75"/><circle cx="392.6" cy="195.3" r="1.75"/><circle cx="392.3" cy="175.2" r="1.75"/><circle cx="395.1" cy="191.1" r="1.75"/><circle cx="396.0" cy="221.3" r="1.75"/><circle cx="385.1" cy="172.9" r="1.75"/><circle cx="398.2" cy="199.2" r="1.75"/><circle cx="397.0" cy="187.2" r="1.75"/><circle cx="381.1" cy="181.3" r="1.75"/><circle cx="381.3" cy="205.9" r="1.75"/><circle cx="369.7" cy="201.6" r="1.75"/><circle cx="383.6" cy="201.4" r="1.75"/><circle cx="373.4" cy="212.7" r="1.75"/><circle cx="395.2" cy="221.3" r="1.75"/><circle cx="381.6" cy="214.8" r="1.75"/><circle cx="371.5" cy="221.7" r="1.75"/><circle cx="399.6" cy="200.2" r="1.75"/><circle cx="385.7" cy="202.2" r="1.75"/><circle cx="386.5" cy="173.2" r="1.75"/><circle cx="400.0" cy="184.8" r="1.75"/><circle cx="375.3" cy="177.9" r="1.75"/><circle cx="370.5" cy="177.5" r="1.75"/><circle cx="391.5" cy="183.1" r="1.75"/><circle cx="370.2" cy="206.2" r="1.75"/><circle cx="387.7" cy="201.8" r="1.75"/><circle cx="391.7" cy="177.9" r="1.75"/><circle cx="396.9" cy="212.9" r="1.75"/><circle cx="371.0" cy="179.0" r="1.75"/><circle cx="385.1" cy="200.5" r="1.75"/><circle cx="378.4" cy="179.0" r="1.75"/><circle cx="382.3" cy="179.8" r="1.75"/><circle cx="374.2" cy="204.7" r="1.75"/><circle cx="393.0" cy="181.4" r="1.75"/><circle cx="395.5" cy="225.4" r="1.75"/><circle cx="381.8" cy="196.0" r="1.75"/><circle cx="396.0" cy="202.0" r="1.75"/><circle cx="382.0" cy="225.7" r="1.75"/><circle cx="394.0" cy="191.3" r="1.75"/><circle cx="377.1" cy="191.1" r="1.75"/><circle cx="383.3" cy="227.9" r="1.75"/><circle cx="394.9" cy="224.0" r="1.75"/><circle cx="395.2" cy="220.3" r="1.75"/><circle cx="371.3" cy="201.5" r="1.75"/><circle cx="377.4" cy="196.1" r="1.75"/><circle cx="389.5" cy="192.8" r="1.75"/><circle cx="386.3" cy="175.9" r="1.75"/><circle cx="383.2" cy="200.8" r="1.75"/><circle cx="370.3" cy="179.9" r="1.75"/><circle cx="399.0" cy="208.1" r="1.75"/><circle cx="395.0" cy="222.4" r="1.75"/><circle cx="397.4" cy="174.0" r="1.75"/><circle cx="389.7" cy="187.1" r="1.75"/><circle cx="390.9" cy="187.6" r="1.75"/><circle cx="389.1" cy="186.3" r="1.75"/><circle cx="385.9" cy="196.7" r="1.75"/><circle cx="399.5" cy="188.4" r="1.75"/><circle cx="379.2" cy="208.9" r="1.75"/><circle cx="373.4" cy="205.9" r="1.75"/><circle cx="399.6" cy="201.3" r="1.75"/><circle cx="378.0" cy="198.6" r="1.75"/><circle cx="386.4" cy="180.5" r="1.75"/><circle cx="373.5" cy="179.5" r="1.75"/><circle cx="378.8" cy="195.2" r="1.75"/><circle cx="378.7" cy="185.9" r="1.75"/><circle cx="372.4" cy="203.1" r="1.75"/><circle cx="396.0" cy="206.8" r="1.75"/><circle cx="387.5" cy="209.1" r="1.75"/><circle cx="375.9" cy="212.5" r="1.75"/><circle cx="384.1" cy="203.2" r="1.75"/><circle cx="388.8" cy="198.7" r="1.75"/><circle cx="379.3" cy="185.8" r="1.75"/><circle cx="376.6" cy="201.2" r="1.75"/><circle cx="381.6" cy="205.4" r="1.75"/><circle cx="370.0" cy="192.1" r="1.75"/><circle cx="396.7" cy="185.6" r="1.75"/><circle cx="387.1" cy="200.0" r="1.75"/><circle cx="378.5" cy="228.3" r="1.75"/><circle cx="378.9" cy="216.0" r="1.75"/><circle cx="374.6" cy="175.8" r="1.75"/><circle cx="397.0" cy="197.1" r="1.75"/><circle cx="371.5" cy="194.1" r="1.75"/><circle cx="383.4" cy="213.9" r="1.75"/><circle cx="373.0" cy="184.8" r="1.75"/><circle cx="374.5" cy="191.2" r="1.75"/><circle cx="380.7" cy="210.5" r="1.75"/><circle cx="395.4" cy="201.5" r="1.75"/><circle cx="392.8" cy="214.4" r="1.75"/><circle cx="393.5" cy="199.1" r="1.75"/><circle cx="394.2" cy="212.4" r="1.75"/><circle cx="398.3" cy="179.3" r="1.75"/><circle cx="396.9" cy="172.2" r="1.75"/><circle cx="393.6" cy="205.4" r="1.75"/><circle cx="385.2" cy="226.9" r="1.75"/><circle cx="387.6" cy="195.8" r="1.75"/><circle cx="394.2" cy="221.7" r="1.75"/><circle cx="388.7" cy="193.6" r="1.75"/><circle cx="383.8" cy="198.1" r="1.75"/><circle cx="392.3" cy="188.7" r="1.75"/><circle cx="381.9" cy="203.7" r="1.75"/><circle cx="381.7" cy="190.4" r="1.75"/><circle cx="394.3" cy="220.4" r="1.75"/><circle cx="385.3" cy="197.3" r="1.75"/><circle cx="375.4" cy="189.3" r="1.75"/><circle cx="374.2" cy="204.8" r="1.75"/><circle cx="387.9" cy="177.0" r="1.75"/><circle cx="398.5" cy="190.5" r="1.75"/><circle cx="396.1" cy="219.8" r="1.75"/><circle cx="399.7" cy="183.6" r="1.75"/><circle cx="383.0" cy="223.9" r="1.75"/><circle cx="369.9" cy="174.7" r="1.75"/><circle cx="387.3" cy="200.3" r="1.75"/><circle cx="386.5" cy="228.9" r="1.75"/><circle cx="385.8" cy="201.5" r="1.75"/><circle cx="391.1" cy="194.2" r="1.75"/><circle cx="380.8" cy="205.9" r="1.75"/><circle cx="380.6" cy="226.0" r="1.75"/><circle cx="390.8" cy="201.9" r="1.75"/><circle cx="372.7" cy="193.3" r="1.75"/><circle cx="382.2" cy="204.0" r="1.75"/><circle cx="399.9" cy="199.7" r="1.75"/><circle cx="383.4" cy="207.6" r="1.75"/><circle cx="400.9" cy="191.6" r="1.75"/><circle cx="386.2" cy="218.5" r="1.75"/><circle cx="375.0" cy="190.1" r="1.75"/><circle cx="385.7" cy="178.3" r="1.75"/><circle cx="397.7" cy="211.3" r="1.75"/><circle cx="395.4" cy="228.4" r="1.75"/><circle cx="397.5" cy="196.0" r="1.75"/><circle cx="374.5" cy="188.5" r="1.75"/><circle cx="385.7" cy="200.8" r="1.75"/><circle cx="375.5" cy="182.4" r="1.75"/><circle cx="389.4" cy="206.4" r="1.75"/><circle cx="380.7" cy="228.6" r="1.75"/><circle cx="389.6" cy="174.4" r="1.75"/><circle cx="382.5" cy="216.9" r="1.75"/><circle cx="369.7" cy="189.4" r="1.75"/><circle cx="396.0" cy="205.4" r="1.75"/><circle cx="390.6" cy="183.2" r="1.75"/><circle cx="385.2" cy="203.5" r="1.75"/><circle cx="378.0" cy="208.9" r="1.75"/><circle cx="386.3" cy="228.8" r="1.75"/><circle cx="387.6" cy="195.4" r="1.75"/><circle cx="373.4" cy="180.9" r="1.75"/><circle cx="393.4" cy="178.1" r="1.75"/><circle cx="372.7" cy="181.7" r="1.75"/><circle cx="386.0" cy="218.9" r="1.75"/><circle cx="388.8" cy="218.0" r="1.75"/><circle cx="371.6" cy="172.7" r="1.75"/><circle cx="393.8" cy="190.4" r="1.75"/><circle cx="392.1" cy="192.2" r="1.75"/><circle cx="374.9" cy="187.2" r="1.75"/><circle cx="372.7" cy="223.5" r="1.75"/><circle cx="387.9" cy="191.9" r="1.75"/><circle cx="383.7" cy="194.0" r="1.75"/><circle cx="371.3" cy="222.8" r="1.75"/><circle cx="387.9" cy="226.7" r="1.75"/><circle cx="383.4" cy="207.4" r="1.75"/><circle cx="377.4" cy="174.5" r="1.75"/><circle cx="379.5" cy="223.2" r="1.75"/><circle cx="395.2" cy="189.3" r="1.75"/><circle cx="388.5" cy="226.7" r="1.75"/><circle cx="377.2" cy="194.2" r="1.75"/><circle cx="392.2" cy="184.6" r="1.75"/><circle cx="379.3" cy="221.9" r="1.75"/><circle cx="384.8" cy="217.2" r="1.75"/><circle cx="377.2" cy="181.9" r="1.75"/><circle cx="380.9" cy="182.6" r="1.75"/><circle cx="400.1" cy="188.6" r="1.75"/><circle cx="387.2" cy="178.5" r="1.75"/><circle cx="386.4" cy="194.0" r="1.75"/><circle cx="382.3" cy="175.7" r="1.75"/><circle cx="380.6" cy="186.0" r="1.75"/><circle cx="375.6" cy="188.2" r="1.75"/><circle cx="377.0" cy="174.0" r="1.75"/><circle cx="390.5" cy="191.5" r="1.75"/><circle cx="374.5" cy="212.2" r="1.75"/><circle cx="372.5" cy="187.4" r="1.75"/><circle cx="395.8" cy="179.3" r="1.75"/><circle cx="383.5" cy="219.7" r="1.75"/><circle cx="394.9" cy="181.1" r="1.75"/><circle cx="381.4" cy="226.6" r="1.75"/><circle cx="376.1" cy="226.2" r="1.75"/><circle cx="385.5" cy="185.0" r="1.75"/><circle cx="383.8" cy="179.5" r="1.75"/><circle cx="391.8" cy="186.9" r="1.75"/><circle cx="397.8" cy="205.5" r="1.75"/><circle cx="381.2" cy="186.0" r="1.75"/><circle cx="388.7" cy="184.1" r="1.75"/><circle cx="397.0" cy="179.0" r="1.75"/><circle cx="385.7" cy="202.9" r="1.75"/><circle cx="378.1" cy="216.0" r="1.75"/><circle cx="381.7" cy="209.5" r="1.75"/><circle cx="387.4" cy="189.7" r="1.75"/><circle cx="381.8" cy="176.9" r="1.75"/><circle cx="379.7" cy="209.8" r="1.75"/><circle cx="373.0" cy="204.0" r="1.75"/><circle cx="381.0" cy="200.5" r="1.75"/><circle cx="378.9" cy="175.8" r="1.75"/><circle cx="379.4" cy="184.9" r="1.75"/><circle cx="373.6" cy="212.9" r="1.75"/><circle cx="378.5" cy="195.0" r="1.75"/><circle cx="398.1" cy="216.2" r="1.75"/><circle cx="397.3" cy="221.1" r="1.75"/><circle cx="373.8" cy="187.8" r="1.75"/><circle cx="370.5" cy="210.7" r="1.75"/><circle cx="390.4" cy="192.0" r="1.75"/><circle cx="382.6" cy="209.6" r="1.75"/><circle cx="391.6" cy="186.2" r="1.75"/><circle cx="396.2" cy="192.1" r="1.75"/><circle cx="389.3" cy="182.4" r="1.75"/><circle cx="373.2" cy="224.0" r="1.75"/><circle cx="392.6" cy="212.6" r="1.75"/><circle cx="370.9" cy="174.3" r="1.75"/><circle cx="374.7" cy="183.3" r="1.75"/><circle cx="379.1" cy="193.7" r="1.75"/><circle cx="370.8" cy="189.7" r="1.75"/><circle cx="389.6" cy="182.2" r="1.75"/><circle cx="396.0" cy="204.5" r="1.75"/><circle cx="392.1" cy="186.5" r="1.75"/><circle cx="380.6" cy="172.1" r="1.75"/><circle cx="395.8" cy="216.3" r="1.75"/><circle cx="378.6" cy="174.4" r="1.75"/><circle cx="396.4" cy="206.6" r="1.75"/><circle cx="371.1" cy="185.9" r="1.75"/><circle cx="376.2" cy="224.1" r="1.75"/><circle cx="393.1" cy="176.9" r="1.75"/><circle cx="391.4" cy="194.4" r="1.75"/><circle cx="393.1" cy="219.2" r="1.75"/><circle cx="378.4" cy="177.1" r="1.75"/><circle cx="399.3" cy="196.2" r="1.75"/><circle cx="398.8" cy="211.4" r="1.75"/><circle cx="392.8" cy="219.3" r="1.75"/><circle cx="389.3" cy="197.8" r="1.75"/><circle cx="371.3" cy="211.8" r="1.75"/><circle cx="383.1" cy="201.2" r="1.75"/><circle cx="398.7" cy="179.3" r="1.75"/><circle cx="393.5" cy="174.5" r="1.75"/><circle cx="391.7" cy="217.9" r="1.75"/><circle cx="377.8" cy="203.1" r="1.75"/><circle cx="386.7" cy="186.2" r="1.75"/><circle cx="371.5" cy="192.4" r="1.75"/><circle cx="382.5" cy="183.5" r="1.75"/><circle cx="379.4" cy="179.8" r="1.75"/><circle cx="391.8" cy="210.2" r="1.75"/><circle cx="377.1" cy="185.8" r="1.75"/><circle cx="385.8" cy="197.4" r="1.75"/><circle cx="399.0" cy="192.0" r="1.75"/><circle cx="379.0" cy="222.4" r="1.75"/><circle cx="374.1" cy="204.1" r="1.75"/><circle cx="380.1" cy="218.5" r="1.75"/><circle cx="386.8" cy="215.3" r="1.75"/><circle cx="374.9" cy="210.0" r="1.75"/><circle cx="388.4" cy="198.3" r="1.75"/><circle cx="393.7" cy="219.4" r="1.75"/><circle cx="373.2" cy="188.5" r="1.75"/><circle cx="380.9" cy="183.8" r="1.75"/><circle cx="371.5" cy="188.0" r="1.75"/><circle cx="375.8" cy="212.0" r="1.75"/><circle cx="383.7" cy="178.4" r="1.75"/><circle cx="379.8" cy="198.7" r="1.75"/><circle cx="381.0" cy="181.6" r="1.75"/><circle cx="371.9" cy="172.6" r="1.75"/><circle cx="372.2" cy="212.9" r="1.75"/><circle cx="373.0" cy="199.9" r="1.75"/><circle cx="383.2" cy="182.8" r="1.75"/><circle cx="386.7" cy="172.5" r="1.75"/><circle cx="398.5" cy="208.7" r="1.75"/><circle cx="389.3" cy="225.3" r="1.75"/><circle cx="390.1" cy="186.3" r="1.75"/><circle cx="377.3" cy="179.9" r="1.75"/><circle cx="370.5" cy="216.1" r="1.75"/><circle cx="396.0" cy="188.9" r="1.75"/><circle cx="375.4" cy="208.4" r="1.75"/><circle cx="396.2" cy="224.8" r="1.75"/><circle cx="395.7" cy="214.3" r="1.75"/><circle cx="379.9" cy="182.5" r="1.75"/><circle cx="395.5" cy="190.2" r="1.75"/><circle cx="381.2" cy="203.4" r="1.75"/><circle cx="377.1" cy="174.4" r="1.75"/><circle cx="387.4" cy="207.8" r="1.75"/><circle cx="395.3" cy="212.2" r="1.75"/><circle cx="385.1" cy="200.5" r="1.75"/><circle cx="374.5" cy="189.1" r="1.75"/><circle cx="387.8" cy="176.6" r="1.75"/><circle cx="391.2" cy="181.3" r="1.75"/><circle cx="383.5" cy="227.3" r="1.75"/><circle cx="372.4" cy="174.3" r="1.75"/><circle cx="383.4" cy="182.9" r="1.75"/><circle cx="392.3" cy="172.2" r="1.75"/><circle cx="396.0" cy="220.8" r="1.75"/><circle cx="394.3" cy="196.3" r="1.75"/><circle cx="378.5" cy="209.7" r="1.75"/><circle cx="385.8" cy="196.0" r="1.75"/><circle cx="380.2" cy="197.0" r="1.75"/><circle cx="390.5" cy="219.1" r="1.75"/><circle cx="398.0" cy="181.4" r="1.75"/><circle cx="378.9" cy="197.3" r="1.75"/><circle cx="387.3" cy="191.8" r="1.75"/><circle cx="375.7" cy="176.8" r="1.75"/><circle cx="379.8" cy="198.2" r="1.75"/><circle cx="396.8" cy="227.5" r="1.75"/><circle cx="399.8" cy="207.3" r="1.75"/><circle cx="395.1" cy="175.4" r="1.75"/><circle cx="390.8" cy="206.7" r="1.75"/><circle cx="378.9" cy="204.6" r="1.75"/><circle cx="399.5" cy="199.4" r="1.75"/><circle cx="389.9" cy="189.1" r="1.75"/><circle cx="380.4" cy="222.5" r="1.75"/><circle cx="370.5" cy="182.8" r="1.75"/><circle cx="390.9" cy="197.5" r="1.75"/><circle cx="372.3" cy="209.6" r="1.75"/><circle cx="381.3" cy="205.1" r="1.75"/><circle cx="382.7" cy="202.2" r="1.75"/><circle cx="387.3" cy="194.6" r="1.75"/><circle cx="373.2" cy="182.3" r="1.75"/><circle cx="397.5" cy="203.2" r="1.75"/><circle cx="377.6" cy="177.4" r="1.75"/><circle cx="386.3" cy="186.3" r="1.75"/><circle cx="385.0" cy="203.6" r="1.75"/><circle cx="376.7" cy="204.6" r="1.75"/><circle cx="373.1" cy="201.3" r="1.75"/><circle cx="388.1" cy="176.6" r="1.75"/><circle cx="382.4" cy="176.2" r="1.75"/><circle cx="386.9" cy="212.7" r="1.75"/><circle cx="393.4" cy="178.5" r="1.75"/><circle cx="381.9" cy="181.8" r="1.75"/><circle cx="399.7" cy="204.1" r="1.75"/><circle cx="393.9" cy="179.8" r="1.75"/><circle cx="394.0" cy="175.3" r="1.75"/><circle cx="377.0" cy="193.2" r="1.75"/><circle cx="370.1" cy="205.9" r="1.75"/><circle cx="376.3" cy="189.1" r="1.75"/><circle cx="391.8" cy="196.3" r="1.75"/><circle cx="397.5" cy="207.4" r="1.75"/><circle cx="397.0" cy="204.1" r="1.75"/><circle cx="374.9" cy="214.5" r="1.75"/><circle cx="380.3" cy="215.5" r="1.75"/><circle cx="391.0" cy="219.1" r="1.75"/><circle cx="373.5" cy="193.3" r="1.75"/><circle cx="392.7" cy="226.0" r="1.75"/><circle cx="392.3" cy="174.5" r="1.75"/><circle cx="388.6" cy="177.7" r="1.75"/><circle cx="386.8" cy="217.8" r="1.75"/><circle cx="373.1" cy="224.7" r="1.75"/><circle cx="390.8" cy="186.5" r="1.75"/><circle cx="375.7" cy="197.5" r="1.75"/><circle cx="395.9" cy="205.1" r="1.75"/><circle cx="373.2" cy="173.2" r="1.75"/><circle cx="375.4" cy="203.6" r="1.75"/><circle cx="381.6" cy="180.2" r="1.75"/><circle cx="397.1" cy="202.7" r="1.75"/><circle cx="391.3" cy="218.1" r="1.75"/><circle cx="399.4" cy="172.8" r="1.75"/><circle cx="380.4" cy="180.6" r="1.75"/><circle cx="394.7" cy="174.0" r="1.75"/><circle cx="390.9" cy="194.4" r="1.75"/><circle cx="384.5" cy="181.0" r="1.75"/><circle cx="374.2" cy="135.4" r="1.75"/><circle cx="374.3" cy="140.7" r="1.75"/><circle cx="370.0" cy="133.9" r="1.75"/><circle cx="370.8" cy="147.5" r="1.75"/><circle cx="372.8" cy="127.0" r="1.75"/><circle cx="370.5" cy="134.7" r="1.75"/><circle cx="372.1" cy="139.8" r="1.75"/><circle cx="371.7" cy="134.5" r="1.75"/><circle cx="369.6" cy="139.9" r="1.75"/><circle cx="371.4" cy="126.5" r="1.75"/><circle cx="372.1" cy="149.7" r="1.75"/><circle cx="369.8" cy="129.5" r="1.75"/><circle cx="373.2" cy="132.5" r="1.75"/><circle cx="371.1" cy="138.0" r="1.75"/><circle cx="373.4" cy="160.4" r="1.75"/><circle cx="377.2" cy="170.8" r="1.75"/><circle cx="377.7" cy="165.8" r="1.75"/><circle cx="382.2" cy="165.9" r="1.75"/><circle cx="378.7" cy="162.1" r="1.75"/><circle cx="374.8" cy="152.6" r="1.75"/><circle cx="381.1" cy="168.6" r="1.75"/><circle cx="383.1" cy="163.4" r="1.75"/><circle cx="374.0" cy="165.6" r="1.75"/><circle cx="380.2" cy="158.7" r="1.75"/><circle cx="378.7" cy="154.5" r="1.75"/><circle cx="377.5" cy="156.0" r="1.75"/><circle cx="370.5" cy="154.1" r="1.75"/><circle cx="374.3" cy="171.7" r="1.75"/><circle cx="376.5" cy="154.9" r="1.75"/><circle cx="373.1" cy="151.3" r="1.75"/><circle cx="374.6" cy="148.7" r="1.75"/><circle cx="369.7" cy="168.5" r="1.75"/><circle cx="376.1" cy="157.0" r="1.75"/><circle cx="377.8" cy="153.2" r="1.75"/><circle cx="372.0" cy="146.8" r="1.75"/><circle cx="373.9" cy="153.3" r="1.75"/><circle cx="380.1" cy="159.9" r="1.75"/><circle cx="383.1" cy="154.2" r="1.75"/><circle cx="370.8" cy="149.8" r="1.75"/><circle cx="378.0" cy="171.7" r="1.75"/><circle cx="374.7" cy="165.9" r="1.75"/><circle cx="375.8" cy="168.4" r="1.75"/><circle cx="370.6" cy="158.1" r="1.75"/><circle cx="382.5" cy="152.4" r="1.75"/><circle cx="373.3" cy="145.6" r="1.75"/><circle cx="372.0" cy="152.2" r="1.75"/><circle cx="375.4" cy="150.4" r="1.75"/><circle cx="378.3" cy="168.3" r="1.75"/><circle cx="380.2" cy="171.0" r="1.75"/><circle cx="378.3" cy="147.1" r="1.75"/><circle cx="381.3" cy="168.6" r="1.75"/><circle cx="374.5" cy="148.7" r="1.75"/><circle cx="372.3" cy="159.5" r="1.75"/><circle cx="382.2" cy="162.3" r="1.75"/><circle cx="382.9" cy="150.7" r="1.75"/><circle cx="374.3" cy="165.2" r="1.75"/><circle cx="378.9" cy="155.9" r="1.75"/><circle cx="379.4" cy="154.1" r="1.75"/><circle cx="370.4" cy="156.2" r="1.75"/><circle cx="370.3" cy="161.9" r="1.75"/><circle cx="374.4" cy="158.3" r="1.75"/><circle cx="378.2" cy="151.9" r="1.75"/><circle cx="376.3" cy="145.4" r="1.75"/><circle cx="378.4" cy="164.6" r="1.75"/><circle cx="374.3" cy="147.5" r="1.75"/><circle cx="371.8" cy="148.9" r="1.75"/><circle cx="381.3" cy="156.4" r="1.75"/><circle cx="377.4" cy="160.9" r="1.75"/><circle cx="377.6" cy="162.7" r="1.75"/><circle cx="378.3" cy="153.9" r="1.75"/><circle cx="380.3" cy="152.0" r="1.75"/><circle cx="379.8" cy="165.6" r="1.75"/><circle cx="380.8" cy="153.3" r="1.75"/><circle cx="380.7" cy="171.4" r="1.75"/><circle cx="376.1" cy="152.5" r="1.75"/><circle cx="377.1" cy="170.4" r="1.75"/><circle cx="376.5" cy="162.7" r="1.75"/><circle cx="380.7" cy="154.8" r="1.75"/><circle cx="380.5" cy="147.4" r="1.75"/><circle cx="370.0" cy="148.6" r="1.75"/><circle cx="370.5" cy="158.5" r="1.75"/><circle cx="383.1" cy="154.9" r="1.75"/><circle cx="371.8" cy="149.8" r="1.75"/><circle cx="380.2" cy="169.9" r="1.75"/><circle cx="371.9" cy="145.8" r="1.75"/><circle cx="380.8" cy="151.5" r="1.75"/><circle cx="378.8" cy="154.3" r="1.75"/><circle cx="381.1" cy="157.4" r="1.75"/><circle cx="374.3" cy="169.4" r="1.75"/><circle cx="371.2" cy="164.8" r="1.75"/><circle cx="370.5" cy="162.4" r="1.75"/><circle cx="375.4" cy="168.3" r="1.75"/><circle cx="370.5" cy="160.2" r="1.75"/><circle cx="375.5" cy="169.8" r="1.75"/><circle cx="383.2" cy="161.9" r="1.75"/><circle cx="372.8" cy="151.8" r="1.75"/><circle cx="373.4" cy="156.7" r="1.75"/><circle cx="372.9" cy="150.5" r="1.75"/><circle cx="380.5" cy="162.4" r="1.75"/><circle cx="373.9" cy="171.8" r="1.75"/><circle cx="372.7" cy="160.4" r="1.75"/><circle cx="371.9" cy="168.3" r="1.75"/><circle cx="382.1" cy="152.2" r="1.75"/><circle cx="380.4" cy="167.2" r="1.75"/><circle cx="391.7" cy="169.5" r="1.75"/><circle cx="385.9" cy="164.7" r="1.75"/><circle cx="393.8" cy="159.4" r="1.75"/><circle cx="393.4" cy="169.3" r="1.75"/><circle cx="386.8" cy="169.3" r="1.75"/><circle cx="389.5" cy="166.9" r="1.75"/><circle cx="398.6" cy="171.9" r="1.75"/><circle cx="388.4" cy="149.6" r="1.75"/><circle cx="385.0" cy="171.4" r="1.75"/><circle cx="385.7" cy="165.9" r="1.75"/><circle cx="384.8" cy="152.9" r="1.75"/><circle cx="389.1" cy="170.1" r="1.75"/><circle cx="395.9" cy="169.3" r="1.75"/><circle cx="387.2" cy="167.2" r="1.75"/><circle cx="392.1" cy="154.3" r="1.75"/><circle cx="390.7" cy="151.4" r="1.75"/><circle cx="388.7" cy="169.2" r="1.75"/><circle cx="385.2" cy="160.2" r="1.75"/><circle cx="385.4" cy="158.9" r="1.75"/><circle cx="386.2" cy="164.8" r="1.75"/><circle cx="385.7" cy="166.0" r="1.75"/><circle cx="392.0" cy="151.6" r="1.75"/><circle cx="389.4" cy="160.4" r="1.75"/><circle cx="386.9" cy="171.3" r="1.75"/><circle cx="398.9" cy="165.8" r="1.75"/><circle cx="387.9" cy="153.1" r="1.75"/><circle cx="387.8" cy="150.6" r="1.75"/><circle cx="383.8" cy="160.7" r="1.75"/><circle cx="390.3" cy="161.8" r="1.75"/><circle cx="389.5" cy="149.2" r="1.75"/><circle cx="395.4" cy="164.0" r="1.75"/><circle cx="392.8" cy="161.6" r="1.75"/><circle cx="395.4" cy="171.6" r="1.75"/><circle cx="398.7" cy="165.5" r="1.75"/><circle cx="390.2" cy="156.3" r="1.75"/><circle cx="390.5" cy="171.4" r="1.75"/><circle cx="390.0" cy="157.9" r="1.75"/><circle cx="390.4" cy="152.3" r="1.75"/><circle cx="393.9" cy="170.3" r="1.75"/><circle cx="387.6" cy="163.1" r="1.75"/><circle cx="389.8" cy="154.5" r="1.75"/><circle cx="386.6" cy="151.7" r="1.75"/><circle cx="398.2" cy="167.0" r="1.75"/><circle cx="395.5" cy="156.5" r="1.75"/><circle cx="394.6" cy="161.6" r="1.75"/><circle cx="388.7" cy="171.3" r="1.75"/><circle cx="398.4" cy="160.7" r="1.75"/><circle cx="393.7" cy="171.9" r="1.75"/><circle cx="387.2" cy="163.5" r="1.75"/><circle cx="396.4" cy="157.7" r="1.75"/><circle cx="395.8" cy="158.1" r="1.75"/><circle cx="392.5" cy="163.1" r="1.75"/><circle cx="395.2" cy="156.4" r="1.75"/><circle cx="394.3" cy="161.5" r="1.75"/><circle cx="387.0" cy="163.1" r="1.75"/><circle cx="577.3" cy="208.0" r="1.75"/><circle cx="584.6" cy="203.9" r="1.75"/><circle cx="586.3" cy="198.5" r="1.75"/><circle cx="575.7" cy="191.1" r="1.75"/><circle cx="600.5" cy="199.6" r="1.75"/><circle cx="586.3" cy="199.6" r="1.75"/><circle cx="596.5" cy="193.3" r="1.75"/><circle cx="574.0" cy="206.1" r="1.75"/><circle cx="584.1" cy="202.1" r="1.75"/><circle cx="598.4" cy="189.0" r="1.75"/><circle cx="581.3" cy="206.3" r="1.75"/><circle cx="596.6" cy="190.7" r="1.75"/><circle cx="573.4" cy="193.5" r="1.75"/><circle cx="571.6" cy="195.8" r="1.75"/><circle cx="596.1" cy="199.5" r="1.75"/><circle cx="583.8" cy="189.9" r="1.75"/><circle cx="592.3" cy="197.9" r="1.75"/><circle cx="584.7" cy="205.6" r="1.75"/><circle cx="594.6" cy="191.3" r="1.75"/><circle cx="591.8" cy="196.1" r="1.75"/><circle cx="586.2" cy="193.2" r="1.75"/><circle cx="581.0" cy="195.5" r="1.75"/><circle cx="575.0" cy="200.6" r="1.75"/><circle cx="593.1" cy="194.0" r="1.75"/><circle cx="579.3" cy="193.3" r="1.75"/><circle cx="597.2" cy="190.0" r="1.75"/><circle cx="590.3" cy="206.9" r="1.75"/><circle cx="575.1" cy="197.3" r="1.75"/></g>
<g fill="#fff"></g>
</g>
<line x1="32.2" y1="229.0" x2="316.7" y2="4.5" stroke="#1e1e1e" stroke-width="1.35" stroke-dasharray="6.5 2.9 1.3 3.0"/>
<line x1="369.6" y1="229.2" x2="655.9" y2="4.7" stroke="#1e1e1e" stroke-width="1.35" stroke-dasharray="6.5 2.9 1.3 3.0"/>
<text x="151.3" y="256" class="at" style="font-size:11.6px">RA/ms<tspan font-size="9.5" dy="1">&#8226;</tspan><tspan dy="-1">V</tspan><tspan font-size="7" dy="-4.2">-1</tspan></text>
<text x="490.0" y="256" class="at" style="font-size:11.6px">RA/ms<tspan font-size="9.5" dy="1">&#8226;</tspan><tspan dy="-1">V</tspan><tspan font-size="7" dy="-4.2">-1</tspan></text>
<text transform="translate(9.7,135.6) rotate(-90)" class="at" style="font-size:13px">AF/kHz</text>
<text transform="translate(347.2,135.6) rotate(-90)" class="at" style="font-size:13px">AF/kHz</text>
<circle cx="369.6" cy="4.7" r="1.5" fill="#3a9a50"/>
<circle cx="655.9" cy="4.7" r="1.5" fill="#3a9a50"/>
<circle cx="369.6" cy="229.2" r="1.5" fill="#3a9a50"/>
<circle cx="655.9" cy="229.2" r="1.5" fill="#3a9a50"/>
<circle cx="512.8" cy="4.7" r="1.5" fill="#3a9a50"/>
<circle cx="512.8" cy="229.2" r="1.5" fill="#3a9a50"/>
<circle cx="655.9" cy="116.9" r="1.5" fill="#3a9a50"/>
<circle cx="369.6" cy="116.9" r="1.5" fill="#3a9a50"/>
<path d="M45.7 264.9 Q36.9 271.4 45.7 277.9 L46.0 277.7 Q39.7 271.4 46.0 265.1 Z" fill="#111"/><text x="47.8" y="278" class="cap" style="font-size:18.3px">a</text><path d="M57.8 264.9 Q67.0 271.4 57.8 277.9 L57.5 277.7 Q64.2 271.4 57.5 265.1 Z" fill="#111"/>
<text x="72.6" y="278" class="cap" textLength="244.8" lengthAdjust="spacingAndGlyphs">Fracture stability development stage</text>
<path d="M356.2 264.9 Q347.4 271.4 356.2 277.9 L356.5 277.7 Q350.2 271.4 356.5 265.1 Z" fill="#111"/><text x="358.7" y="278" class="cap" style="font-size:17px">b</text><path d="M369.0 264.9 Q378.2 271.4 369.0 277.9 L368.7 277.7 Q375.4 271.4 368.7 265.1 Z" fill="#111"/>
<text x="384" y="278" class="cap" textLength="257.6" lengthAdjust="spacingAndGlyphs">Fracture instability development stage</text>
</svg>
</body></html>
